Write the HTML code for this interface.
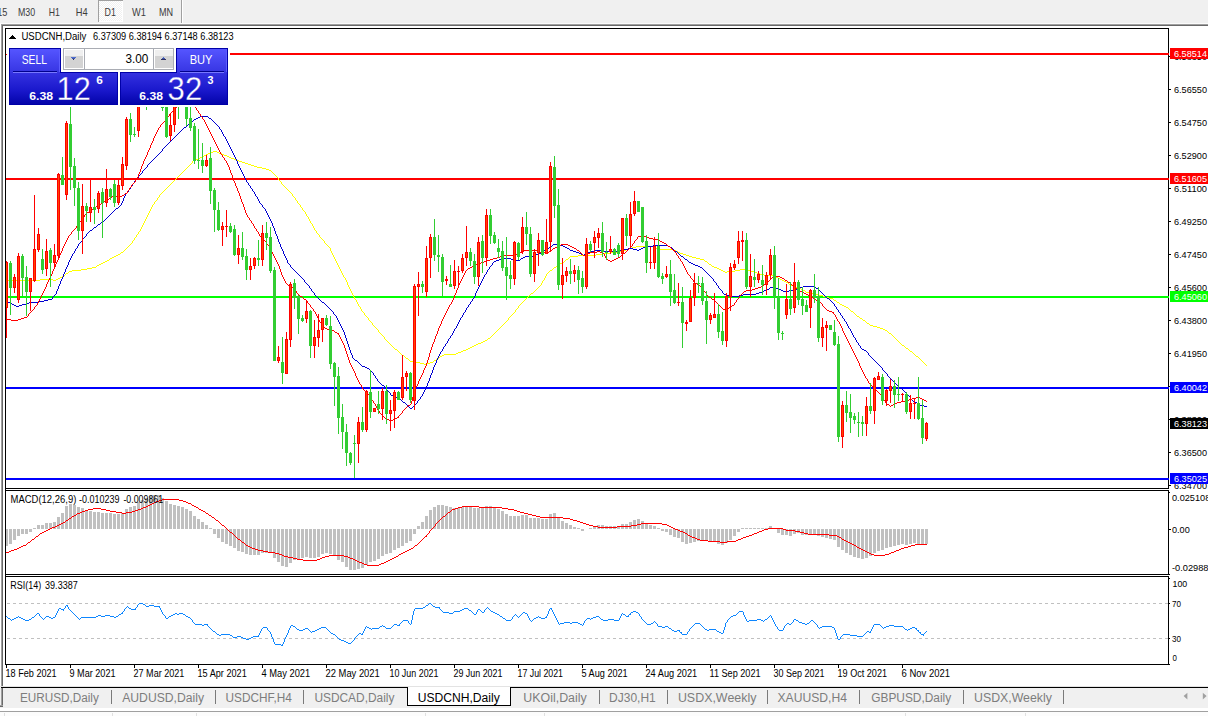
<!DOCTYPE html>
<html><head><meta charset="utf-8"><title>USDCNH,Daily</title>
<style>html,body{margin:0;padding:0;background:#fff}body{width:1208px;height:716px;overflow:hidden;position:relative}svg{position:absolute;left:0;top:0;display:block}text{font-family:"Liberation Sans",sans-serif;white-space:pre}.c{shape-rendering:crispEdges}</style></head><body>
<svg width="1208" height="716" viewBox="0 0 1208 716">
<defs><linearGradient id="gs" gradientUnits="userSpaceOnUse" x1="0" y1="49" x2="0" y2="73"><stop offset="0" stop-color="#5555ff"/><stop offset="1" stop-color="#3634e2"/></linearGradient><linearGradient id="gp" gradientUnits="userSpaceOnUse" x1="0" y1="73" x2="0" y2="104"><stop offset="0" stop-color="#3431e0"/><stop offset="0.55" stop-color="#1a18cc"/><stop offset="1" stop-color="#0404aa"/></linearGradient><linearGradient id="gb" x1="0" y1="0" x2="0" y2="1"><stop offset="0" stop-color="#f4f4f4"/><stop offset="0.45" stop-color="#e4e4e4"/><stop offset="0.5" stop-color="#d2d2d2"/><stop offset="1" stop-color="#c8c8c8"/></linearGradient><pattern id="chk" width="2" height="2" patternUnits="userSpaceOnUse"><rect width="2" height="2" fill="#f0f0f0"/><rect width="1" height="1" fill="#fff"/><rect x="1" y="1" width="1" height="1" fill="#fff"/></pattern><clipPath id="cm"><rect x="6" y="29" width="1162" height="459"/></clipPath></defs>
<g class="c">
<rect x="0" y="0" width="1208" height="716" fill="#fff"/>
<rect x="0" y="0" width="1208" height="23" fill="#f0f0f0"/>
<rect x="0" y="23" width="1208" height="1" fill="#fbfbfb"/>
<rect x="1" y="24" width="1207" height="1" fill="#a0a0a0"/>
<rect x="2" y="25" width="1206" height="1" fill="#696969"/>
<rect x="1" y="24" width="1" height="683" fill="#a0a0a0"/>
<rect x="2" y="25" width="1" height="682" fill="#696969"/>
<rect x="98" y="0" width="25" height="22" fill="url(#chk)"/>
<rect x="98" y="0" width="25" height="1" fill="#a0a0a0"/>
<rect x="98" y="0" width="1" height="22" fill="#a0a0a0"/>
<rect x="122" y="1" width="1" height="21" fill="#fff"/>
<rect x="99" y="21" width="24" height="1" fill="#fff"/>
<rect x="181" y="0" width="1" height="23" fill="#a0a0a0"/>
<rect x="182" y="0" width="1" height="23" fill="#fff"/>
<rect x="0" y="686" width="1208" height="1" fill="#e3e3e3"/>
<rect x="0" y="688" width="1208" height="20" fill="#f0f0f0"/>
<rect x="1" y="687" width="1207" height="1" fill="#000"/>
<rect x="0" y="708" width="1208" height="3" fill="#fff"/>
<rect x="0" y="711" width="1208" height="1" fill="#a0a0a0"/>
<rect x="0" y="712" width="1208" height="4" fill="#fcfcfc"/>
<rect x="4" y="713" width="1" height="3" fill="#e0e0e0"/>
<rect x="112" y="713" width="1" height="3" fill="#e0e0e0"/>
<rect x="196" y="713" width="1" height="3" fill="#e0e0e0"/>
<rect x="425" y="713" width="1" height="3" fill="#e0e0e0"/>
<rect x="544" y="713" width="1" height="3" fill="#e0e0e0"/>
<rect x="905" y="713" width="1" height="3" fill="#e0e0e0"/>
<rect x="1025" y="713" width="1" height="3" fill="#e0e0e0"/>
<rect x="1" y="688" width="1" height="18" fill="#a0a0a0"/>
<rect x="2" y="688" width="1" height="18" fill="#696969"/>
<rect x="0" y="705" width="3" height="1" fill="#a0a0a0"/>
<rect x="0" y="706" width="3" height="1" fill="#696969"/>
<rect x="407" y="687" width="104" height="19" fill="#fff"/>
<rect x="407" y="687" width="1" height="19" fill="#000"/>
<rect x="510" y="687" width="1" height="19" fill="#000"/>
<rect x="407" y="705" width="104" height="1" fill="#000"/>
<rect x="408" y="687" width="102" height="1" fill="#fff"/>
<rect x="111" y="690" width="1" height="14" fill="#7a7a7a"/>
<rect x="215" y="690" width="1" height="14" fill="#7a7a7a"/>
<rect x="303" y="690" width="1" height="14" fill="#7a7a7a"/>
<rect x="599" y="690" width="1" height="14" fill="#7a7a7a"/>
<rect x="667" y="690" width="1" height="14" fill="#7a7a7a"/>
<rect x="767" y="690" width="1" height="14" fill="#7a7a7a"/>
<rect x="859" y="690" width="1" height="14" fill="#7a7a7a"/>
<rect x="963" y="690" width="1" height="14" fill="#7a7a7a"/>
<rect x="1063" y="690" width="1" height="14" fill="#7a7a7a"/>
<rect x="5" y="28" width="1" height="637" fill="#000"/>
<rect x="5" y="28" width="1164" height="1" fill="#000"/>
<rect x="5" y="488" width="1164" height="1" fill="#000"/>
<rect x="1168" y="28" width="1" height="461" fill="#000"/>
<rect x="5" y="490" width="1164" height="1" fill="#000"/>
<rect x="5" y="574" width="1164" height="1" fill="#000"/>
<rect x="1168" y="490" width="1" height="85" fill="#000"/>
<rect x="5" y="576" width="1164" height="1" fill="#000"/>
<rect x="5" y="664" width="1164" height="1" fill="#000"/>
<rect x="1168" y="576" width="1" height="89" fill="#000"/>
<rect x="6" y="665" width="1" height="3" fill="#000"/>
<rect x="70" y="665" width="1" height="3" fill="#000"/>
<rect x="134" y="665" width="1" height="3" fill="#000"/>
<rect x="198" y="665" width="1" height="3" fill="#000"/>
<rect x="262" y="665" width="1" height="3" fill="#000"/>
<rect x="326" y="665" width="1" height="3" fill="#000"/>
<rect x="390" y="665" width="1" height="3" fill="#000"/>
<rect x="454" y="665" width="1" height="3" fill="#000"/>
<rect x="518" y="665" width="1" height="3" fill="#000"/>
<rect x="582" y="665" width="1" height="3" fill="#000"/>
<rect x="646" y="665" width="1" height="3" fill="#000"/>
<rect x="710" y="665" width="1" height="3" fill="#000"/>
<rect x="774" y="665" width="1" height="3" fill="#000"/>
<rect x="838" y="665" width="1" height="3" fill="#000"/>
<rect x="902" y="665" width="1" height="3" fill="#000"/>
<rect x="1169" y="56" width="2" height="1" fill="#000"/>
<rect x="1169" y="89" width="2" height="1" fill="#000"/>
<rect x="1169" y="122" width="2" height="1" fill="#000"/>
<rect x="1169" y="155" width="2" height="1" fill="#000"/>
<rect x="1169" y="188" width="2" height="1" fill="#000"/>
<rect x="1169" y="221" width="2" height="1" fill="#000"/>
<rect x="1169" y="254" width="2" height="1" fill="#000"/>
<rect x="1169" y="287" width="2" height="1" fill="#000"/>
<rect x="1169" y="320" width="2" height="1" fill="#000"/>
<rect x="1169" y="353" width="2" height="1" fill="#000"/>
<rect x="1169" y="386" width="2" height="1" fill="#000"/>
<rect x="1169" y="419" width="2" height="1" fill="#000"/>
<rect x="1169" y="452" width="2" height="1" fill="#000"/>
<rect x="1169" y="485" width="2" height="1" fill="#000"/>
<rect x="1169" y="492" width="1" height="1" fill="#000"/>
<rect x="1169" y="529" width="2" height="1" fill="#000"/>
<rect x="1169" y="574" width="1" height="1" fill="#000"/>
<rect x="1169" y="578" width="1" height="1" fill="#000"/>
<rect x="1169" y="603" width="1" height="1" fill="#000"/>
<rect x="1169" y="638" width="1" height="1" fill="#000"/>
<rect x="1169" y="664" width="1" height="1" fill="#000"/>
</g>
<g class="c">
<rect x="6" y="53" width="1163" height="2" fill="#ff0000"/>
<rect x="6" y="178" width="1163" height="2" fill="#ff0000"/>
<rect x="6" y="296" width="1163" height="2" fill="#00ff00"/>
<rect x="6" y="387" width="1163" height="2" fill="#0000ff"/>
<rect x="6" y="478" width="1163" height="2" fill="#0000ff"/>
</g>
<g class="c" clip-path="url(#cm)">
<path d="M6 280h1v1h-1zM7 280h1v1h-1zM8 280h1v1h-1zM9 280h1v1h-1zM10 280h1v1h-1zM11 280h1v1h-1zM12 280h1v1h-1zM13 280h1v1h-1zM14 280h1v1h-1zM15 280h1v1h-1zM16 280h1v1h-1zM17 280h1v1h-1zM18 280h1v1h-1zM19 280h1v1h-1zM20 280h1v1h-1zM21 280h1v1h-1zM22 280h1v1h-1zM23 280h1v1h-1zM24 280h1v1h-1zM25 280h1v1h-1zM26 280h1v1h-1zM27 280h1v1h-1zM28 280h1v1h-1zM29 280h1v1h-1zM30 280h1v1h-1zM31 280h1v1h-1zM32 280h1v1h-1zM33 280h1v1h-1zM34 280h1v1h-1zM35 280h1v1h-1zM36 280h1v1h-1zM37 280h1v1h-1zM38 280h1v1h-1zM39 280h1v1h-1zM40 279h1v1h-1zM41 279h1v1h-1zM42 279h1v1h-1zM43 279h1v1h-1zM44 279h1v1h-1zM45 279h1v1h-1zM46 279h1v1h-1zM47 279h1v1h-1zM48 279h1v1h-1zM49 279h1v1h-1zM50 279h1v1h-1zM51 279h1v1h-1zM52 279h1v1h-1zM53 280h1v1h-1zM54 280h1v1h-1zM55 280h1v1h-1zM56 279h1v1h-1zM57 279h1v1h-1zM58 278h1v1h-1zM59 278h1v1h-1zM60 277h1v1h-1zM61 277h1v1h-1zM62 276h1v1h-1zM63 275h1v1h-1zM64 275h1v1h-1zM65 274h1v1h-1zM66 273h1v1h-1zM67 273h1v1h-1zM68 272h1v1h-1zM69 271h1v1h-1zM70 271h1v1h-1zM71 271h1v1h-1zM72 270h1v1h-1zM73 270h1v1h-1zM74 270h1v1h-1zM75 270h1v1h-1zM76 270h1v1h-1zM77 270h1v1h-1zM78 270h1v1h-1zM79 270h1v1h-1zM80 270h1v1h-1zM81 269h1v1h-1zM82 269h1v1h-1zM83 269h1v1h-1zM84 269h1v1h-1zM85 269h1v1h-1zM86 269h1v1h-1zM87 268h1v1h-1zM88 268h1v1h-1zM89 268h1v1h-1zM90 268h1v1h-1zM91 268h1v1h-1zM92 267h1v1h-1zM93 267h1v1h-1zM94 267h1v1h-1zM95 267h1v1h-1zM96 266h1v1h-1zM97 265h1v1h-1zM98 265h1v1h-1zM99 264h1v1h-1zM100 264h1v1h-1zM101 263h1v1h-1zM102 263h1v1h-1zM103 262h1v1h-1zM104 262h1v1h-1zM105 261h1v1h-1zM106 261h1v1h-1zM107 260h1v1h-1zM108 260h1v1h-1zM109 259h1v1h-1zM110 258h1v1h-1zM111 258h1v1h-1zM112 257h1v1h-1zM113 257h1v1h-1zM114 256h1v1h-1zM115 256h1v1h-1zM116 255h1v1h-1zM117 255h1v1h-1zM118 254h1v1h-1zM119 254h1v1h-1zM120 253h1v1h-1zM121 252h1v1h-1zM122 252h1v1h-1zM123 251h1v1h-1zM124 250h1v1h-1zM125 249h1v1h-1zM126 248h1v1h-1zM127 247h1v1h-1zM128 246h1v1h-1zM129 245h1v1h-1zM130 244h1v1h-1zM131 243h1v1h-1zM132 241h1v2h-1zM133 240h1v1h-1zM134 238h1v2h-1zM135 237h1v1h-1zM136 235h1v2h-1zM137 234h1v1h-1zM138 232h1v2h-1zM139 231h1v1h-1zM140 229h1v2h-1zM141 227h1v2h-1zM142 225h1v2h-1zM143 223h1v2h-1zM144 221h1v2h-1zM145 219h1v2h-1zM146 217h1v2h-1zM147 215h1v2h-1zM148 213h1v2h-1zM149 211h1v2h-1zM150 209h1v2h-1zM151 207h1v2h-1zM152 205h1v2h-1zM153 204h1v1h-1zM154 202h1v2h-1zM155 201h1v1h-1zM156 200h1v1h-1zM157 198h1v2h-1zM158 197h1v1h-1zM159 195h1v2h-1zM160 194h1v1h-1zM161 193h1v1h-1zM162 192h1v1h-1zM163 191h1v1h-1zM164 190h1v1h-1zM165 189h1v1h-1zM166 188h1v1h-1zM167 187h1v1h-1zM168 186h1v1h-1zM169 185h1v1h-1zM170 184h1v1h-1zM171 183h1v1h-1zM172 182h1v1h-1zM173 181h1v1h-1zM174 180h1v1h-1zM175 179h1v1h-1zM176 178h1v1h-1zM177 177h1v1h-1zM178 176h1v1h-1zM179 175h1v1h-1zM180 174h1v1h-1zM181 173h1v1h-1zM182 172h1v1h-1zM183 171h1v1h-1zM184 170h1v1h-1zM185 169h1v1h-1zM186 168h1v1h-1zM187 167h1v1h-1zM188 166h1v1h-1zM189 165h1v1h-1zM190 164h1v1h-1zM191 163h1v1h-1zM192 161h1v2h-1zM193 160h1v1h-1zM194 160h1v1h-1zM195 160h1v1h-1zM196 159h1v1h-1zM197 159h1v1h-1zM198 158h1v1h-1zM199 158h1v1h-1zM200 157h1v1h-1zM201 157h1v1h-1zM202 156h1v1h-1zM203 156h1v1h-1zM204 155h1v1h-1zM205 155h1v1h-1zM206 154h1v1h-1zM207 154h1v1h-1zM208 153h1v1h-1zM209 153h1v1h-1zM210 152h1v1h-1zM211 152h1v1h-1zM212 152h1v1h-1zM213 151h1v1h-1zM214 151h1v1h-1zM215 151h1v1h-1zM216 151h1v1h-1zM217 152h1v1h-1zM218 152h1v1h-1zM219 153h1v1h-1zM220 153h1v1h-1zM221 153h1v1h-1zM222 154h1v1h-1zM223 154h1v1h-1zM224 155h1v1h-1zM225 155h1v1h-1zM226 155h1v1h-1zM227 156h1v1h-1zM228 156h1v1h-1zM229 157h1v1h-1zM230 157h1v1h-1zM231 158h1v1h-1zM232 158h1v1h-1zM233 158h1v1h-1zM234 159h1v1h-1zM235 159h1v1h-1zM236 160h1v1h-1zM237 160h1v1h-1zM238 160h1v1h-1zM239 161h1v1h-1zM240 161h1v1h-1zM241 161h1v1h-1zM242 162h1v1h-1zM243 162h1v1h-1zM244 162h1v1h-1zM245 163h1v1h-1zM246 163h1v1h-1zM247 163h1v1h-1zM248 164h1v1h-1zM249 164h1v1h-1zM250 164h1v1h-1zM251 165h1v1h-1zM252 165h1v1h-1zM253 165h1v1h-1zM254 166h1v1h-1zM255 166h1v1h-1zM256 166h1v1h-1zM257 167h1v1h-1zM258 167h1v1h-1zM259 167h1v1h-1zM260 167h1v1h-1zM261 167h1v1h-1zM262 168h1v1h-1zM263 168h1v1h-1zM264 168h1v1h-1zM265 168h1v1h-1zM266 169h1v1h-1zM267 169h1v1h-1zM268 169h1v1h-1zM269 170h1v1h-1zM270 170h1v1h-1zM271 171h1v1h-1zM272 172h1v1h-1zM273 173h1v1h-1zM274 174h1v1h-1zM275 175h1v1h-1zM276 176h1v1h-1zM277 177h1v1h-1zM278 178h1v2h-1zM279 180h1v1h-1zM280 181h1v1h-1zM281 182h1v2h-1zM282 184h1v1h-1zM283 185h1v1h-1zM284 186h1v1h-1zM285 187h1v1h-1zM286 188h1v1h-1zM287 189h1v1h-1zM288 190h1v1h-1zM289 191h1v1h-1zM290 192h1v1h-1zM291 193h1v1h-1zM292 194h1v2h-1zM293 196h1v1h-1zM294 197h1v1h-1zM295 198h1v2h-1zM296 200h1v1h-1zM297 201h1v2h-1zM298 203h1v1h-1zM299 204h1v1h-1zM300 205h1v2h-1zM301 207h1v1h-1zM302 208h1v2h-1zM303 210h1v1h-1zM304 211h1v1h-1zM305 212h1v2h-1zM306 214h1v2h-1zM307 216h1v1h-1zM308 217h1v2h-1zM309 219h1v2h-1zM310 221h1v2h-1zM311 223h1v1h-1zM312 224h1v2h-1zM313 226h1v2h-1zM314 228h1v2h-1zM315 230h1v1h-1zM316 231h1v2h-1zM317 233h1v1h-1zM318 234h1v1h-1zM319 235h1v2h-1zM320 237h1v1h-1zM321 238h1v1h-1zM322 239h1v1h-1zM323 240h1v1h-1zM324 241h1v2h-1zM325 243h1v1h-1zM326 244h1v1h-1zM327 245h1v1h-1zM328 246h1v1h-1zM329 247h1v1h-1zM330 248h1v3h-1zM331 251h1v2h-1zM332 253h1v2h-1zM333 255h1v2h-1zM334 257h1v2h-1zM335 259h1v2h-1zM336 261h1v2h-1zM337 263h1v2h-1zM338 265h1v2h-1zM339 267h1v2h-1zM340 269h1v2h-1zM341 271h1v2h-1zM342 273h1v2h-1zM343 275h1v2h-1zM344 277h1v1h-1zM345 278h1v2h-1zM346 280h1v2h-1zM347 282h1v3h-1zM348 285h1v2h-1zM349 287h1v2h-1zM350 289h1v2h-1zM351 291h1v2h-1zM352 293h1v2h-1zM353 295h1v2h-1zM354 297h1v2h-1zM355 299h1v1h-1zM356 300h1v2h-1zM357 302h1v2h-1zM358 304h1v2h-1zM359 306h1v1h-1zM360 307h1v2h-1zM361 309h1v2h-1zM362 311h1v1h-1zM363 312h1v1h-1zM364 313h1v2h-1zM365 315h1v1h-1zM366 316h1v1h-1zM367 317h1v1h-1zM368 318h1v2h-1zM369 320h1v1h-1zM370 321h1v1h-1zM371 322h1v1h-1zM372 323h1v2h-1zM373 325h1v1h-1zM374 326h1v1h-1zM375 327h1v1h-1zM376 328h1v1h-1zM377 329h1v1h-1zM378 330h1v2h-1zM379 332h1v1h-1zM380 333h1v1h-1zM381 334h1v1h-1zM382 335h1v1h-1zM383 336h1v1h-1zM384 337h1v2h-1zM385 339h1v1h-1zM386 340h1v1h-1zM387 341h1v1h-1zM388 342h1v1h-1zM389 343h1v1h-1zM390 344h1v1h-1zM391 345h1v1h-1zM392 346h1v1h-1zM393 347h1v1h-1zM394 348h1v1h-1zM395 349h1v1h-1zM396 349h1v1h-1zM397 350h1v1h-1zM398 351h1v1h-1zM399 352h1v1h-1zM400 353h1v1h-1zM401 354h1v1h-1zM402 355h1v1h-1zM403 355h1v1h-1zM404 356h1v1h-1zM405 357h1v1h-1zM406 358h1v1h-1zM407 358h1v1h-1zM408 359h1v1h-1zM409 360h1v1h-1zM410 361h1v1h-1zM411 361h1v1h-1zM412 361h1v1h-1zM413 361h1v1h-1zM414 361h1v1h-1zM415 362h1v1h-1zM416 362h1v1h-1zM417 362h1v1h-1zM418 362h1v1h-1zM419 362h1v1h-1zM420 363h1v1h-1zM421 363h1v1h-1zM422 363h1v1h-1zM423 363h1v1h-1zM424 364h1v1h-1zM425 364h1v1h-1zM426 364h1v1h-1zM427 363h1v1h-1zM428 363h1v1h-1zM429 363h1v1h-1zM430 362h1v1h-1zM431 362h1v1h-1zM432 362h1v1h-1zM433 361h1v1h-1zM434 360h1v1h-1zM435 360h1v1h-1zM436 359h1v1h-1zM437 358h1v1h-1zM438 358h1v1h-1zM439 357h1v1h-1zM440 356h1v1h-1zM441 356h1v1h-1zM442 355h1v1h-1zM443 355h1v1h-1zM444 354h1v1h-1zM445 354h1v1h-1zM446 354h1v1h-1zM447 354h1v1h-1zM448 354h1v1h-1zM449 354h1v1h-1zM450 354h1v1h-1zM451 354h1v1h-1zM452 354h1v1h-1zM453 354h1v1h-1zM454 354h1v1h-1zM455 354h1v1h-1zM456 353h1v1h-1zM457 353h1v1h-1zM458 352h1v1h-1zM459 352h1v1h-1zM460 352h1v1h-1zM461 351h1v1h-1zM462 351h1v1h-1zM463 350h1v1h-1zM464 350h1v1h-1zM465 350h1v1h-1zM466 349h1v1h-1zM467 349h1v1h-1zM468 348h1v1h-1zM469 348h1v1h-1zM470 347h1v1h-1zM471 347h1v1h-1zM472 346h1v1h-1zM473 346h1v1h-1zM474 345h1v1h-1zM475 345h1v1h-1zM476 344h1v1h-1zM477 344h1v1h-1zM478 343h1v1h-1zM479 343h1v1h-1zM480 343h1v1h-1zM481 342h1v1h-1zM482 342h1v1h-1zM483 341h1v1h-1zM484 341h1v1h-1zM485 340h1v1h-1zM486 340h1v1h-1zM487 339h1v1h-1zM488 338h1v1h-1zM489 338h1v1h-1zM490 337h1v1h-1zM491 336h1v1h-1zM492 335h1v1h-1zM493 334h1v1h-1zM494 333h1v1h-1zM495 332h1v1h-1zM496 331h1v1h-1zM497 330h1v1h-1zM498 329h1v1h-1zM499 328h1v1h-1zM500 327h1v1h-1zM501 326h1v1h-1zM502 325h1v1h-1zM503 324h1v1h-1zM504 323h1v1h-1zM505 322h1v1h-1zM506 321h1v1h-1zM507 320h1v1h-1zM508 318h1v2h-1zM509 317h1v1h-1zM510 316h1v1h-1zM511 315h1v1h-1zM512 314h1v1h-1zM513 313h1v1h-1zM514 312h1v1h-1zM515 310h1v2h-1zM516 309h1v1h-1zM517 308h1v1h-1zM518 306h1v2h-1zM519 305h1v1h-1zM520 304h1v1h-1zM521 303h1v1h-1zM522 302h1v1h-1zM523 301h1v1h-1zM524 300h1v1h-1zM525 299h1v1h-1zM526 298h1v1h-1zM527 297h1v1h-1zM528 296h1v1h-1zM529 295h1v1h-1zM530 294h1v1h-1zM531 293h1v1h-1zM532 293h1v1h-1zM533 292h1v1h-1zM534 291h1v1h-1zM535 290h1v1h-1zM536 289h1v1h-1zM537 288h1v1h-1zM538 287h1v1h-1zM539 286h1v1h-1zM540 285h1v1h-1zM541 283h1v2h-1zM542 281h1v2h-1zM543 280h1v1h-1zM544 278h1v2h-1zM545 276h1v2h-1zM546 274h1v2h-1zM547 273h1v1h-1zM548 272h1v1h-1zM549 271h1v1h-1zM550 270h1v1h-1zM551 270h1v1h-1zM552 269h1v1h-1zM553 268h1v1h-1zM554 267h1v1h-1zM555 267h1v1h-1zM556 266h1v1h-1zM557 265h1v1h-1zM558 265h1v1h-1zM559 264h1v1h-1zM560 263h1v1h-1zM561 263h1v1h-1zM562 262h1v1h-1zM563 262h1v1h-1zM564 261h1v1h-1zM565 260h1v1h-1zM566 259h1v1h-1zM567 259h1v1h-1zM568 258h1v1h-1zM569 257h1v1h-1zM570 256h1v1h-1zM571 256h1v1h-1zM572 256h1v1h-1zM573 256h1v1h-1zM574 256h1v1h-1zM575 256h1v1h-1zM576 256h1v1h-1zM577 256h1v1h-1zM578 255h1v1h-1zM579 255h1v1h-1zM580 255h1v1h-1zM581 255h1v1h-1zM582 255h1v1h-1zM583 255h1v1h-1zM584 255h1v1h-1zM585 255h1v1h-1zM586 255h1v1h-1zM587 255h1v1h-1zM588 255h1v1h-1zM589 255h1v1h-1zM590 255h1v1h-1zM591 255h1v1h-1zM592 255h1v1h-1zM593 255h1v1h-1zM594 255h1v1h-1zM595 255h1v1h-1zM596 254h1v1h-1zM597 254h1v1h-1zM598 254h1v1h-1zM599 254h1v1h-1zM600 254h1v1h-1zM601 254h1v1h-1zM602 253h1v1h-1zM603 253h1v1h-1zM604 253h1v1h-1zM605 253h1v1h-1zM606 253h1v1h-1zM607 253h1v1h-1zM608 253h1v1h-1zM609 253h1v1h-1zM610 252h1v1h-1zM611 252h1v1h-1zM612 252h1v1h-1zM613 252h1v1h-1zM614 252h1v1h-1zM615 252h1v1h-1zM616 252h1v1h-1zM617 251h1v1h-1zM618 251h1v1h-1zM619 251h1v1h-1zM620 251h1v1h-1zM621 251h1v1h-1zM622 251h1v1h-1zM623 250h1v1h-1zM624 250h1v1h-1zM625 250h1v1h-1zM626 249h1v1h-1zM627 249h1v1h-1zM628 249h1v1h-1zM629 248h1v1h-1zM630 248h1v1h-1zM631 248h1v1h-1zM632 247h1v1h-1zM633 247h1v1h-1zM634 247h1v1h-1zM635 247h1v1h-1zM636 246h1v1h-1zM637 246h1v1h-1zM638 246h1v1h-1zM639 246h1v1h-1zM640 246h1v1h-1zM641 246h1v1h-1zM642 246h1v1h-1zM643 246h1v1h-1zM644 246h1v1h-1zM645 246h1v1h-1zM646 246h1v1h-1zM647 246h1v1h-1zM648 246h1v1h-1zM649 246h1v1h-1zM650 246h1v1h-1zM651 246h1v1h-1zM652 246h1v1h-1zM653 247h1v1h-1zM654 247h1v1h-1zM655 247h1v1h-1zM656 248h1v1h-1zM657 248h1v1h-1zM658 248h1v1h-1zM659 248h1v1h-1zM660 249h1v1h-1zM661 249h1v1h-1zM662 249h1v1h-1zM663 249h1v1h-1zM664 249h1v1h-1zM665 249h1v1h-1zM666 249h1v1h-1zM667 249h1v1h-1zM668 249h1v1h-1zM669 249h1v1h-1zM670 249h1v1h-1zM671 249h1v1h-1zM672 249h1v1h-1zM673 249h1v1h-1zM674 250h1v1h-1zM675 250h1v1h-1zM676 251h1v1h-1zM677 251h1v1h-1zM678 252h1v1h-1zM679 252h1v1h-1zM680 253h1v1h-1zM681 253h1v1h-1zM682 253h1v1h-1zM683 254h1v1h-1zM684 254h1v1h-1zM685 254h1v1h-1zM686 255h1v1h-1zM687 255h1v1h-1zM688 255h1v1h-1zM689 256h1v1h-1zM690 256h1v1h-1zM691 256h1v1h-1zM692 257h1v1h-1zM693 257h1v1h-1zM694 257h1v1h-1zM695 257h1v1h-1zM696 258h1v1h-1zM697 258h1v1h-1zM698 258h1v1h-1zM699 258h1v1h-1zM700 259h1v1h-1zM701 259h1v1h-1zM702 259h1v1h-1zM703 259h1v1h-1zM704 260h1v1h-1zM705 261h1v1h-1zM706 261h1v1h-1zM707 262h1v1h-1zM708 263h1v1h-1zM709 264h1v1h-1zM710 264h1v1h-1zM711 265h1v1h-1zM712 266h1v1h-1zM713 266h1v1h-1zM714 267h1v1h-1zM715 267h1v1h-1zM716 267h1v1h-1zM717 268h1v1h-1zM718 268h1v1h-1zM719 269h1v1h-1zM720 269h1v1h-1zM721 270h1v1h-1zM722 270h1v1h-1zM723 271h1v1h-1zM724 271h1v1h-1zM725 272h1v1h-1zM726 272h1v1h-1zM727 271h1v1h-1zM728 271h1v1h-1zM729 271h1v1h-1zM730 271h1v1h-1zM731 271h1v1h-1zM732 271h1v1h-1zM733 271h1v1h-1zM734 271h1v1h-1zM735 270h1v1h-1zM736 270h1v1h-1zM737 270h1v1h-1zM738 270h1v1h-1zM739 270h1v1h-1zM740 269h1v1h-1zM741 269h1v1h-1zM742 269h1v1h-1zM743 269h1v1h-1zM744 269h1v1h-1zM745 269h1v1h-1zM746 270h1v1h-1zM747 270h1v1h-1zM748 270h1v1h-1zM749 270h1v1h-1zM750 271h1v1h-1zM751 271h1v1h-1zM752 271h1v1h-1zM753 271h1v1h-1zM754 272h1v1h-1zM755 272h1v1h-1zM756 272h1v1h-1zM757 273h1v1h-1zM758 273h1v1h-1zM759 273h1v1h-1zM760 274h1v1h-1zM761 274h1v1h-1zM762 274h1v1h-1zM763 274h1v1h-1zM764 275h1v1h-1zM765 275h1v1h-1zM766 275h1v1h-1zM767 275h1v1h-1zM768 275h1v1h-1zM769 275h1v1h-1zM770 275h1v1h-1zM771 275h1v1h-1zM772 275h1v1h-1zM773 276h1v1h-1zM774 276h1v1h-1zM775 276h1v1h-1zM776 277h1v1h-1zM777 277h1v1h-1zM778 278h1v1h-1zM779 278h1v1h-1zM780 279h1v1h-1zM781 279h1v1h-1zM782 280h1v1h-1zM783 280h1v1h-1zM784 281h1v1h-1zM785 281h1v1h-1zM786 282h1v1h-1zM787 282h1v1h-1zM788 283h1v1h-1zM789 284h1v1h-1zM790 284h1v1h-1zM791 285h1v1h-1zM792 285h1v1h-1zM793 286h1v1h-1zM794 286h1v1h-1zM795 286h1v1h-1zM796 287h1v1h-1zM797 287h1v1h-1zM798 288h1v1h-1zM799 288h1v1h-1zM800 288h1v1h-1zM801 289h1v1h-1zM802 290h1v1h-1zM803 290h1v1h-1zM804 290h1v1h-1zM805 291h1v1h-1zM806 292h1v1h-1zM807 292h1v1h-1zM808 292h1v1h-1zM809 293h1v1h-1zM810 293h1v1h-1zM811 293h1v1h-1zM812 293h1v1h-1zM813 293h1v1h-1zM814 293h1v1h-1zM815 294h1v1h-1zM816 294h1v1h-1zM817 294h1v1h-1zM818 294h1v1h-1zM819 295h1v1h-1zM820 295h1v1h-1zM821 295h1v1h-1zM822 295h1v1h-1zM823 296h1v1h-1zM824 296h1v1h-1zM825 296h1v1h-1zM826 297h1v1h-1zM827 297h1v1h-1zM828 297h1v1h-1zM829 298h1v1h-1zM830 298h1v1h-1zM831 298h1v1h-1zM832 298h1v1h-1zM833 299h1v1h-1zM834 300h1v1h-1zM835 300h1v1h-1zM836 301h1v1h-1zM837 302h1v1h-1zM838 302h1v1h-1zM839 303h1v1h-1zM840 304h1v1h-1zM841 304h1v1h-1zM842 305h1v1h-1zM843 305h1v1h-1zM844 306h1v1h-1zM845 306h1v1h-1zM846 307h1v1h-1zM847 307h1v1h-1zM848 308h1v1h-1zM849 309h1v1h-1zM850 310h1v1h-1zM851 311h1v1h-1zM852 311h1v1h-1zM853 312h1v1h-1zM854 313h1v1h-1zM855 314h1v1h-1zM856 315h1v1h-1zM857 316h1v1h-1zM858 316h1v1h-1zM859 317h1v1h-1zM860 318h1v1h-1zM861 318h1v1h-1zM862 319h1v1h-1zM863 320h1v1h-1zM864 320h1v1h-1zM865 321h1v1h-1zM866 322h1v1h-1zM867 323h1v1h-1zM868 323h1v1h-1zM869 324h1v1h-1zM870 325h1v1h-1zM871 325h1v1h-1zM872 325h1v1h-1zM873 326h1v1h-1zM874 326h1v1h-1zM875 326h1v1h-1zM876 326h1v1h-1zM877 327h1v1h-1zM878 327h1v1h-1zM879 327h1v1h-1zM880 328h1v1h-1zM881 328h1v1h-1zM882 328h1v1h-1zM883 329h1v1h-1zM884 329h1v1h-1zM885 330h1v1h-1zM886 330h1v1h-1zM887 331h1v1h-1zM888 332h1v1h-1zM889 333h1v1h-1zM890 333h1v1h-1zM891 334h1v1h-1zM892 335h1v1h-1zM893 336h1v1h-1zM894 337h1v1h-1zM895 338h1v1h-1zM896 339h1v1h-1zM897 340h1v1h-1zM898 341h1v1h-1zM899 342h1v1h-1zM900 343h1v1h-1zM901 344h1v1h-1zM902 345h1v1h-1zM903 345h1v1h-1zM904 346h1v1h-1zM905 347h1v1h-1zM906 348h1v1h-1zM907 348h1v1h-1zM908 349h1v1h-1zM909 350h1v1h-1zM910 351h1v1h-1zM911 351h1v1h-1zM912 352h1v1h-1zM913 353h1v1h-1zM914 354h1v1h-1zM915 355h1v1h-1zM916 356h1v1h-1zM917 356h1v1h-1zM918 357h1v1h-1zM919 358h1v1h-1zM920 359h1v1h-1zM921 360h1v1h-1zM922 361h1v1h-1zM923 362h1v1h-1zM924 363h1v1h-1zM925 364h1v1h-1zM926 365h1v1h-1z" fill="#ffff00"/>
<path d="M6 301h1v1h-1zM7 301h1v1h-1zM8 302h1v1h-1zM9 302h1v1h-1zM10 303h1v1h-1zM11 303h1v1h-1zM12 304h1v1h-1zM13 304h1v1h-1zM14 305h1v1h-1zM15 305h1v1h-1zM16 306h1v1h-1zM17 306h1v1h-1zM18 306h1v1h-1zM19 305h1v1h-1zM20 305h1v1h-1zM21 305h1v1h-1zM22 304h1v1h-1zM23 304h1v1h-1zM24 304h1v1h-1zM25 304h1v1h-1zM26 303h1v1h-1zM27 303h1v1h-1zM28 303h1v1h-1zM29 302h1v1h-1zM30 302h1v1h-1zM31 302h1v1h-1zM32 302h1v1h-1zM33 302h1v1h-1zM34 302h1v1h-1zM35 302h1v1h-1zM36 302h1v1h-1zM37 302h1v1h-1zM38 301h1v1h-1zM39 301h1v1h-1zM40 301h1v1h-1zM41 301h1v1h-1zM42 301h1v1h-1zM43 301h1v1h-1zM44 300h1v1h-1zM45 300h1v1h-1zM46 300h1v1h-1zM47 300h1v1h-1zM48 299h1v1h-1zM49 299h1v1h-1zM50 299h1v1h-1zM51 299h1v1h-1zM52 297h1v2h-1zM53 296h1v1h-1zM54 295h1v1h-1zM55 294h1v1h-1zM56 291h1v3h-1zM57 289h1v2h-1zM58 286h1v3h-1zM59 284h1v2h-1zM60 281h1v3h-1zM61 279h1v2h-1zM62 277h1v2h-1zM63 274h1v3h-1zM64 272h1v2h-1zM65 269h1v3h-1zM66 267h1v2h-1zM67 265h1v2h-1zM68 262h1v3h-1zM69 260h1v2h-1zM70 258h1v2h-1zM71 256h1v2h-1zM72 254h1v2h-1zM73 253h1v1h-1zM74 251h1v2h-1zM75 249h1v2h-1zM76 248h1v1h-1zM77 246h1v2h-1zM78 244h1v2h-1zM79 243h1v1h-1zM80 242h1v1h-1zM81 241h1v1h-1zM82 239h1v2h-1zM83 238h1v1h-1zM84 237h1v1h-1zM85 236h1v1h-1zM86 234h1v2h-1zM87 233h1v1h-1zM88 232h1v1h-1zM89 231h1v1h-1zM90 230h1v1h-1zM91 230h1v1h-1zM92 229h1v1h-1zM93 228h1v1h-1zM94 227h1v1h-1zM95 227h1v1h-1zM96 226h1v1h-1zM97 225h1v1h-1zM98 224h1v1h-1zM99 224h1v1h-1zM100 223h1v1h-1zM101 222h1v1h-1zM102 221h1v1h-1zM103 221h1v1h-1zM104 220h1v1h-1zM105 219h1v1h-1zM106 218h1v1h-1zM107 217h1v1h-1zM108 216h1v1h-1zM109 215h1v1h-1zM110 214h1v1h-1zM111 213h1v1h-1zM112 212h1v1h-1zM113 211h1v1h-1zM114 210h1v1h-1zM115 209h1v1h-1zM116 208h1v1h-1zM117 208h1v1h-1zM118 207h1v1h-1zM119 206h1v1h-1zM120 205h1v1h-1zM121 203h1v2h-1zM122 201h1v2h-1zM123 198h1v3h-1zM124 196h1v2h-1zM125 194h1v2h-1zM126 193h1v1h-1zM127 192h1v1h-1zM128 190h1v2h-1zM129 189h1v1h-1zM130 187h1v2h-1zM131 186h1v1h-1zM132 184h1v2h-1zM133 183h1v1h-1zM134 181h1v2h-1zM135 180h1v1h-1zM136 179h1v1h-1zM137 178h1v1h-1zM138 176h1v2h-1zM139 175h1v1h-1zM140 174h1v1h-1zM141 173h1v1h-1zM142 171h1v2h-1zM143 170h1v1h-1zM144 169h1v1h-1zM145 168h1v1h-1zM146 167h1v1h-1zM147 165h1v2h-1zM148 164h1v1h-1zM149 163h1v1h-1zM150 162h1v1h-1zM151 161h1v1h-1zM152 160h1v1h-1zM153 159h1v1h-1zM154 158h1v1h-1zM155 157h1v1h-1zM156 156h1v1h-1zM157 155h1v1h-1zM158 154h1v1h-1zM159 153h1v1h-1zM160 152h1v1h-1zM161 151h1v1h-1zM162 149h1v2h-1zM163 148h1v1h-1zM164 147h1v1h-1zM165 146h1v1h-1zM166 145h1v1h-1zM167 144h1v1h-1zM168 143h1v1h-1zM169 142h1v1h-1zM170 141h1v1h-1zM171 140h1v1h-1zM172 139h1v1h-1zM173 138h1v1h-1zM174 137h1v1h-1zM175 136h1v1h-1zM176 135h1v1h-1zM177 134h1v1h-1zM178 133h1v1h-1zM179 132h1v1h-1zM180 131h1v1h-1zM181 130h1v1h-1zM182 129h1v1h-1zM183 128h1v1h-1zM184 127h1v1h-1zM185 127h1v1h-1zM186 126h1v1h-1zM187 125h1v1h-1zM188 124h1v1h-1zM189 123h1v1h-1zM190 122h1v1h-1zM191 121h1v1h-1zM192 121h1v1h-1zM193 120h1v1h-1zM194 119h1v1h-1zM195 119h1v1h-1zM196 118h1v1h-1zM197 118h1v1h-1zM198 117h1v1h-1zM199 117h1v1h-1zM200 116h1v1h-1zM201 116h1v1h-1zM202 116h1v1h-1zM203 116h1v1h-1zM204 116h1v1h-1zM205 116h1v1h-1zM206 116h1v1h-1zM207 116h1v1h-1zM208 117h1v1h-1zM209 118h1v1h-1zM210 118h1v1h-1zM211 119h1v1h-1zM212 120h1v1h-1zM213 121h1v1h-1zM214 122h1v1h-1zM215 123h1v1h-1zM216 124h1v1h-1zM217 125h1v1h-1zM218 126h1v1h-1zM219 127h1v2h-1zM220 129h1v1h-1zM221 130h1v2h-1zM222 132h1v2h-1zM223 134h1v2h-1zM224 136h1v1h-1zM225 137h1v2h-1zM226 139h1v2h-1zM227 141h1v2h-1zM228 143h1v2h-1zM229 145h1v2h-1zM230 147h1v2h-1zM231 149h1v2h-1zM232 151h1v2h-1zM233 153h1v2h-1zM234 155h1v2h-1zM235 157h1v2h-1zM236 159h1v2h-1zM237 161h1v3h-1zM238 164h1v2h-1zM239 166h1v2h-1zM240 168h1v2h-1zM241 170h1v2h-1zM242 172h1v2h-1zM243 174h1v2h-1zM244 176h1v2h-1zM245 178h1v2h-1zM246 180h1v2h-1zM247 182h1v1h-1zM248 183h1v2h-1zM249 185h1v1h-1zM250 186h1v2h-1zM251 188h1v1h-1zM252 189h1v2h-1zM253 191h1v1h-1zM254 192h1v2h-1zM255 194h1v2h-1zM256 196h1v1h-1zM257 197h1v2h-1zM258 199h1v2h-1zM259 201h1v2h-1zM260 203h1v1h-1zM261 204h1v1h-1zM262 205h1v2h-1zM263 207h1v1h-1zM264 208h1v1h-1zM265 209h1v2h-1zM266 211h1v2h-1zM267 213h1v2h-1zM268 215h1v2h-1zM269 217h1v2h-1zM270 219h1v2h-1zM271 221h1v2h-1zM272 223h1v3h-1zM273 226h1v2h-1zM274 228h1v3h-1zM275 231h1v3h-1zM276 234h1v2h-1zM277 236h1v3h-1zM278 239h1v3h-1zM279 242h1v2h-1zM280 244h1v3h-1zM281 247h1v2h-1zM282 249h1v2h-1zM283 251h1v3h-1zM284 254h1v2h-1zM285 256h1v2h-1zM286 258h1v2h-1zM287 260h1v3h-1zM288 263h1v1h-1zM289 264h1v1h-1zM290 265h1v2h-1zM291 267h1v1h-1zM292 268h1v1h-1zM293 269h1v1h-1zM294 270h1v1h-1zM295 271h1v1h-1zM296 272h1v1h-1zM297 273h1v1h-1zM298 274h1v1h-1zM299 275h1v1h-1zM300 276h1v1h-1zM301 277h1v1h-1zM302 278h1v1h-1zM303 279h1v1h-1zM304 280h1v2h-1zM305 282h1v1h-1zM306 283h1v1h-1zM307 284h1v1h-1zM308 285h1v1h-1zM309 286h1v2h-1zM310 288h1v1h-1zM311 289h1v2h-1zM312 291h1v1h-1zM313 292h1v1h-1zM314 293h1v2h-1zM315 295h1v1h-1zM316 296h1v1h-1zM317 297h1v1h-1zM318 298h1v1h-1zM319 299h1v1h-1zM320 300h1v1h-1zM321 301h1v1h-1zM322 302h1v1h-1zM323 302h1v1h-1zM324 303h1v1h-1zM325 304h1v1h-1zM326 305h1v1h-1zM327 306h1v1h-1zM328 307h1v1h-1zM329 308h1v1h-1zM330 309h1v1h-1zM331 310h1v1h-1zM332 311h1v1h-1zM333 312h1v2h-1zM334 314h1v1h-1zM335 315h1v1h-1zM336 316h1v2h-1zM337 318h1v2h-1zM338 320h1v2h-1zM339 322h1v2h-1zM340 324h1v2h-1zM341 326h1v2h-1zM342 328h1v2h-1zM343 330h1v2h-1zM344 332h1v3h-1zM345 335h1v3h-1zM346 338h1v3h-1zM347 341h1v3h-1zM348 344h1v3h-1zM349 347h1v3h-1zM350 350h1v3h-1zM351 353h1v2h-1zM352 355h1v3h-1zM353 358h1v1h-1zM354 359h1v1h-1zM355 360h1v1h-1zM356 360h1v1h-1zM357 361h1v1h-1zM358 362h1v1h-1zM359 363h1v1h-1zM360 364h1v1h-1zM361 365h1v1h-1zM362 366h1v1h-1zM363 366h1v1h-1zM364 366h1v1h-1zM365 367h1v1h-1zM366 367h1v1h-1zM367 368h1v1h-1zM368 368h1v1h-1zM369 369h1v1h-1zM370 370h1v1h-1zM371 371h1v1h-1zM372 372h1v1h-1zM373 373h1v2h-1zM374 375h1v1h-1zM375 376h1v2h-1zM376 378h1v1h-1zM377 379h1v2h-1zM378 381h1v1h-1zM379 382h1v1h-1zM380 383h1v1h-1zM381 384h1v1h-1zM382 385h1v1h-1zM383 385h1v1h-1zM384 386h1v1h-1zM385 387h1v2h-1zM386 389h1v1h-1zM387 390h1v1h-1zM388 391h1v1h-1zM389 392h1v1h-1zM390 393h1v2h-1zM391 395h1v1h-1zM392 395h1v1h-1zM393 396h1v1h-1zM394 396h1v1h-1zM395 396h1v1h-1zM396 397h1v1h-1zM397 397h1v1h-1zM398 398h1v1h-1zM399 398h1v1h-1zM400 399h1v1h-1zM401 400h1v1h-1zM402 401h1v1h-1zM403 402h1v1h-1zM404 402h1v1h-1zM405 403h1v1h-1zM406 404h1v1h-1zM407 405h1v1h-1zM408 406h1v1h-1zM409 407h1v1h-1zM410 408h1v1h-1zM411 408h1v1h-1zM412 407h1v1h-1zM413 406h1v1h-1zM414 405h1v1h-1zM415 404h1v1h-1zM416 403h1v1h-1zM417 401h1v2h-1zM418 400h1v1h-1zM419 399h1v1h-1zM420 397h1v2h-1zM421 396h1v1h-1zM422 394h1v2h-1zM423 392h1v2h-1zM424 390h1v2h-1zM425 388h1v2h-1zM426 386h1v2h-1zM427 383h1v3h-1zM428 381h1v2h-1zM429 378h1v3h-1zM430 375h1v3h-1zM431 373h1v2h-1zM432 370h1v3h-1zM433 367h1v3h-1zM434 365h1v2h-1zM435 363h1v2h-1zM436 360h1v3h-1zM437 358h1v2h-1zM438 356h1v2h-1zM439 354h1v2h-1zM440 352h1v2h-1zM441 351h1v1h-1zM442 349h1v2h-1zM443 347h1v2h-1zM444 346h1v1h-1zM445 344h1v2h-1zM446 343h1v1h-1zM447 341h1v2h-1zM448 339h1v2h-1zM449 338h1v1h-1zM450 336h1v2h-1zM451 335h1v1h-1zM452 333h1v2h-1zM453 331h1v2h-1zM454 329h1v2h-1zM455 328h1v1h-1zM456 326h1v2h-1zM457 324h1v2h-1zM458 322h1v2h-1zM459 320h1v2h-1zM460 318h1v2h-1zM461 317h1v1h-1zM462 315h1v2h-1zM463 313h1v2h-1zM464 312h1v1h-1zM465 310h1v2h-1zM466 308h1v2h-1zM467 307h1v1h-1zM468 305h1v2h-1zM469 304h1v1h-1zM470 302h1v2h-1zM471 301h1v1h-1zM472 299h1v2h-1zM473 298h1v1h-1zM474 296h1v2h-1zM475 293h1v3h-1zM476 291h1v2h-1zM477 289h1v2h-1zM478 287h1v2h-1zM479 285h1v2h-1zM480 283h1v2h-1zM481 281h1v2h-1zM482 279h1v2h-1zM483 277h1v2h-1zM484 275h1v2h-1zM485 274h1v1h-1zM486 272h1v2h-1zM487 270h1v2h-1zM488 269h1v1h-1zM489 267h1v2h-1zM490 266h1v1h-1zM491 265h1v1h-1zM492 263h1v2h-1zM493 262h1v1h-1zM494 261h1v1h-1zM495 261h1v1h-1zM496 260h1v1h-1zM497 260h1v1h-1zM498 260h1v1h-1zM499 259h1v1h-1zM500 259h1v1h-1zM501 259h1v1h-1zM502 258h1v1h-1zM503 258h1v1h-1zM504 258h1v1h-1zM505 258h1v1h-1zM506 258h1v1h-1zM507 258h1v1h-1zM508 258h1v1h-1zM509 258h1v1h-1zM510 258h1v1h-1zM511 259h1v1h-1zM512 259h1v1h-1zM513 259h1v1h-1zM514 259h1v1h-1zM515 259h1v1h-1zM516 260h1v1h-1zM517 260h1v1h-1zM518 260h1v1h-1zM519 260h1v1h-1zM520 259h1v1h-1zM521 258h1v1h-1zM522 258h1v1h-1zM523 257h1v1h-1zM524 257h1v1h-1zM525 256h1v1h-1zM526 256h1v1h-1zM527 256h1v1h-1zM528 256h1v1h-1zM529 256h1v1h-1zM530 256h1v1h-1zM531 256h1v1h-1zM532 256h1v1h-1zM533 256h1v1h-1zM534 255h1v1h-1zM535 255h1v1h-1zM536 254h1v1h-1zM537 254h1v1h-1zM538 253h1v1h-1zM539 253h1v1h-1zM540 253h1v1h-1zM541 252h1v1h-1zM542 252h1v1h-1zM543 251h1v1h-1zM544 250h1v1h-1zM545 250h1v1h-1zM546 249h1v1h-1zM547 249h1v1h-1zM548 248h1v1h-1zM549 247h1v1h-1zM550 246h1v1h-1zM551 246h1v1h-1zM552 245h1v1h-1zM553 244h1v1h-1zM554 244h1v1h-1zM555 244h1v1h-1zM556 244h1v1h-1zM557 244h1v1h-1zM558 244h1v1h-1zM559 244h1v1h-1zM560 245h1v1h-1zM561 245h1v1h-1zM562 245h1v1h-1zM563 246h1v1h-1zM564 246h1v1h-1zM565 247h1v1h-1zM566 247h1v1h-1zM567 248h1v1h-1zM568 248h1v1h-1zM569 249h1v1h-1zM570 250h1v1h-1zM571 250h1v1h-1zM572 250h1v1h-1zM573 251h1v1h-1zM574 251h1v1h-1zM575 251h1v1h-1zM576 252h1v1h-1zM577 252h1v1h-1zM578 252h1v1h-1zM579 253h1v1h-1zM580 253h1v1h-1zM581 254h1v1h-1zM582 254h1v1h-1zM583 255h1v1h-1zM584 254h1v1h-1zM585 254h1v1h-1zM586 253h1v1h-1zM587 253h1v1h-1zM588 252h1v1h-1zM589 252h1v1h-1zM590 251h1v1h-1zM591 251h1v1h-1zM592 251h1v1h-1zM593 251h1v1h-1zM594 250h1v1h-1zM595 250h1v1h-1zM596 250h1v1h-1zM597 250h1v1h-1zM598 250h1v1h-1zM599 250h1v1h-1zM600 250h1v1h-1zM601 250h1v1h-1zM602 250h1v1h-1zM603 250h1v1h-1zM604 251h1v1h-1zM605 251h1v1h-1zM606 251h1v1h-1zM607 251h1v1h-1zM608 251h1v1h-1zM609 251h1v1h-1zM610 251h1v1h-1zM611 251h1v1h-1zM612 251h1v1h-1zM613 251h1v1h-1zM614 251h1v1h-1zM615 251h1v1h-1zM616 251h1v1h-1zM617 251h1v1h-1zM618 251h1v1h-1zM619 250h1v1h-1zM620 250h1v1h-1zM621 250h1v1h-1zM622 250h1v1h-1zM623 250h1v1h-1zM624 249h1v1h-1zM625 249h1v1h-1zM626 249h1v1h-1zM627 249h1v1h-1zM628 248h1v1h-1zM629 248h1v1h-1zM630 248h1v1h-1zM631 248h1v1h-1zM632 248h1v1h-1zM633 249h1v1h-1zM634 249h1v1h-1zM635 249h1v1h-1zM636 249h1v1h-1zM637 250h1v1h-1zM638 250h1v1h-1zM639 249h1v1h-1zM640 249h1v1h-1zM641 248h1v1h-1zM642 248h1v1h-1zM643 247h1v1h-1zM644 247h1v1h-1zM645 247h1v1h-1zM646 246h1v1h-1zM647 246h1v1h-1zM648 246h1v1h-1zM649 246h1v1h-1zM650 246h1v1h-1zM651 246h1v1h-1zM652 246h1v1h-1zM653 245h1v1h-1zM654 245h1v1h-1zM655 245h1v1h-1zM656 245h1v1h-1zM657 245h1v1h-1zM658 245h1v1h-1zM659 245h1v1h-1zM660 245h1v1h-1zM661 245h1v1h-1zM662 245h1v1h-1zM663 245h1v1h-1zM664 245h1v1h-1zM665 245h1v1h-1zM666 245h1v1h-1zM667 245h1v1h-1zM668 246h1v1h-1zM669 246h1v1h-1zM670 247h1v1h-1zM671 247h1v1h-1zM672 248h1v1h-1zM673 249h1v1h-1zM674 250h1v1h-1zM675 251h1v1h-1zM676 251h1v1h-1zM677 252h1v1h-1zM678 253h1v1h-1zM679 254h1v1h-1zM680 255h1v1h-1zM681 256h1v1h-1zM682 256h1v1h-1zM683 257h1v1h-1zM684 258h1v1h-1zM685 259h1v1h-1zM686 259h1v1h-1zM687 260h1v1h-1zM688 261h1v1h-1zM689 262h1v1h-1zM690 262h1v1h-1zM691 263h1v1h-1zM692 263h1v1h-1zM693 264h1v1h-1zM694 264h1v1h-1zM695 265h1v1h-1zM696 265h1v1h-1zM697 265h1v1h-1zM698 266h1v1h-1zM699 266h1v1h-1zM700 267h1v1h-1zM701 267h1v1h-1zM702 268h1v1h-1zM703 269h1v1h-1zM704 270h1v1h-1zM705 271h1v1h-1zM706 272h1v1h-1zM707 273h1v1h-1zM708 274h1v1h-1zM709 275h1v1h-1zM710 276h1v1h-1zM711 277h1v1h-1zM712 278h1v1h-1zM713 279h1v2h-1zM714 281h1v1h-1zM715 282h1v1h-1zM716 283h1v2h-1zM717 285h1v1h-1zM718 286h1v2h-1zM719 288h1v1h-1zM720 289h1v1h-1zM721 290h1v1h-1zM722 291h1v2h-1zM723 293h1v1h-1zM724 294h1v1h-1zM725 294h1v1h-1zM726 294h1v1h-1zM727 295h1v1h-1zM728 295h1v1h-1zM729 295h1v1h-1zM730 296h1v1h-1zM731 296h1v1h-1zM732 296h1v1h-1zM733 296h1v1h-1zM734 296h1v1h-1zM735 296h1v1h-1zM736 296h1v1h-1zM737 296h1v1h-1zM738 296h1v1h-1zM739 295h1v1h-1zM740 295h1v1h-1zM741 295h1v1h-1zM742 295h1v1h-1zM743 294h1v1h-1zM744 294h1v1h-1zM745 294h1v1h-1zM746 294h1v1h-1zM747 294h1v1h-1zM748 294h1v1h-1zM749 294h1v1h-1zM750 294h1v1h-1zM751 294h1v1h-1zM752 294h1v1h-1zM753 294h1v1h-1zM754 294h1v1h-1zM755 294h1v1h-1zM756 293h1v1h-1zM757 293h1v1h-1zM758 293h1v1h-1zM759 292h1v1h-1zM760 292h1v1h-1zM761 292h1v1h-1zM762 291h1v1h-1zM763 291h1v1h-1zM764 290h1v1h-1zM765 290h1v1h-1zM766 290h1v1h-1zM767 289h1v1h-1zM768 289h1v1h-1zM769 288h1v1h-1zM770 287h1v1h-1zM771 287h1v1h-1zM772 287h1v1h-1zM773 287h1v1h-1zM774 287h1v1h-1zM775 287h1v1h-1zM776 288h1v1h-1zM777 288h1v1h-1zM778 288h1v1h-1zM779 289h1v1h-1zM780 289h1v1h-1zM781 290h1v1h-1zM782 290h1v1h-1zM783 291h1v1h-1zM784 291h1v1h-1zM785 291h1v1h-1zM786 291h1v1h-1zM787 291h1v1h-1zM788 291h1v1h-1zM789 290h1v1h-1zM790 290h1v1h-1zM791 290h1v1h-1zM792 290h1v1h-1zM793 290h1v1h-1zM794 290h1v1h-1zM795 289h1v1h-1zM796 289h1v1h-1zM797 288h1v1h-1zM798 288h1v1h-1zM799 288h1v1h-1zM800 287h1v1h-1zM801 287h1v1h-1zM802 287h1v1h-1zM803 286h1v1h-1zM804 286h1v1h-1zM805 286h1v1h-1zM806 286h1v1h-1zM807 286h1v1h-1zM808 286h1v1h-1zM809 286h1v1h-1zM810 286h1v1h-1zM811 286h1v1h-1zM812 286h1v1h-1zM813 286h1v1h-1zM814 287h1v1h-1zM815 287h1v1h-1zM816 288h1v1h-1zM817 288h1v1h-1zM818 289h1v1h-1zM819 290h1v1h-1zM820 291h1v1h-1zM821 292h1v1h-1zM822 293h1v1h-1zM823 294h1v1h-1zM824 295h1v1h-1zM825 296h1v1h-1zM826 297h1v1h-1zM827 298h1v1h-1zM828 298h1v1h-1zM829 299h1v1h-1zM830 300h1v1h-1zM831 301h1v1h-1zM832 302h1v1h-1zM833 303h1v1h-1zM834 304h1v2h-1zM835 306h1v1h-1zM836 307h1v2h-1zM837 309h1v1h-1zM838 310h1v2h-1zM839 312h1v1h-1zM840 313h1v2h-1zM841 315h1v1h-1zM842 316h1v2h-1zM843 318h1v1h-1zM844 319h1v2h-1zM845 321h1v1h-1zM846 322h1v2h-1zM847 324h1v2h-1zM848 326h1v2h-1zM849 328h1v1h-1zM850 329h1v2h-1zM851 331h1v2h-1zM852 333h1v2h-1zM853 335h1v2h-1zM854 337h1v1h-1zM855 338h1v2h-1zM856 340h1v2h-1zM857 342h1v1h-1zM858 343h1v2h-1zM859 345h1v1h-1zM860 346h1v2h-1zM861 348h1v1h-1zM862 349h1v1h-1zM863 349h1v1h-1zM864 350h1v1h-1zM865 350h1v1h-1zM866 351h1v1h-1zM867 352h1v1h-1zM868 353h1v2h-1zM869 355h1v1h-1zM870 356h1v1h-1zM871 357h1v1h-1zM872 358h1v1h-1zM873 359h1v1h-1zM874 360h1v1h-1zM875 361h1v1h-1zM876 362h1v1h-1zM877 363h1v1h-1zM878 364h1v1h-1zM879 365h1v1h-1zM880 366h1v1h-1zM881 367h1v1h-1zM882 368h1v2h-1zM883 370h1v1h-1zM884 371h1v1h-1zM885 372h1v1h-1zM886 373h1v1h-1zM887 374h1v2h-1zM888 376h1v1h-1zM889 377h1v1h-1zM890 378h1v1h-1zM891 379h1v1h-1zM892 380h1v1h-1zM893 381h1v1h-1zM894 382h1v1h-1zM895 383h1v1h-1zM896 384h1v1h-1zM897 385h1v1h-1zM898 386h1v1h-1zM899 387h1v1h-1zM900 388h1v1h-1zM901 388h1v1h-1zM902 389h1v1h-1zM903 390h1v1h-1zM904 391h1v1h-1zM905 392h1v1h-1zM906 393h1v1h-1zM907 394h1v1h-1zM908 395h1v1h-1zM909 396h1v1h-1zM910 397h1v2h-1zM911 399h1v1h-1zM912 400h1v1h-1zM913 401h1v1h-1zM914 401h1v1h-1zM915 402h1v1h-1zM916 402h1v1h-1zM917 403h1v1h-1zM918 404h1v1h-1zM919 404h1v1h-1zM920 405h1v1h-1zM921 405h1v1h-1zM922 405h1v1h-1zM923 405h1v1h-1zM924 406h1v1h-1zM925 406h1v1h-1zM926 406h1v1h-1z" fill="#0000d0"/>
<path d="M6 318h1v1h-1zM7 319h1v1h-1zM8 319h1v1h-1zM9 319h1v1h-1zM10 319h1v1h-1zM11 320h1v1h-1zM12 320h1v1h-1zM13 320h1v1h-1zM14 320h1v1h-1zM15 320h1v1h-1zM16 320h1v1h-1zM17 320h1v1h-1zM18 319h1v1h-1zM19 319h1v1h-1zM20 319h1v1h-1zM21 318h1v1h-1zM22 318h1v1h-1zM23 318h1v1h-1zM24 317h1v1h-1zM25 317h1v1h-1zM26 317h1v1h-1zM27 316h1v1h-1zM28 314h1v2h-1zM29 313h1v1h-1zM30 312h1v1h-1zM31 311h1v1h-1zM32 310h1v1h-1zM33 309h1v1h-1zM34 307h1v2h-1zM35 306h1v1h-1zM36 305h1v1h-1zM37 303h1v2h-1zM38 301h1v2h-1zM39 299h1v2h-1zM40 297h1v2h-1zM41 295h1v2h-1zM42 293h1v2h-1zM43 291h1v2h-1zM44 289h1v2h-1zM45 287h1v2h-1zM46 284h1v3h-1zM47 282h1v2h-1zM48 280h1v2h-1zM49 278h1v2h-1zM50 276h1v2h-1zM51 274h1v2h-1zM52 271h1v3h-1zM53 269h1v2h-1zM54 267h1v2h-1zM55 264h1v3h-1zM56 262h1v2h-1zM57 260h1v2h-1zM58 258h1v2h-1zM59 255h1v3h-1zM60 253h1v2h-1zM61 251h1v2h-1zM62 248h1v3h-1zM63 246h1v2h-1zM64 244h1v2h-1zM65 242h1v2h-1zM66 240h1v2h-1zM67 238h1v2h-1zM68 236h1v2h-1zM69 235h1v1h-1zM70 234h1v1h-1zM71 232h1v2h-1zM72 231h1v1h-1zM73 230h1v1h-1zM74 229h1v1h-1zM75 228h1v1h-1zM76 226h1v2h-1zM77 225h1v1h-1zM78 224h1v1h-1zM79 222h1v2h-1zM80 221h1v1h-1zM81 219h1v2h-1zM82 218h1v1h-1zM83 217h1v1h-1zM84 215h1v2h-1zM85 214h1v1h-1zM86 213h1v1h-1zM87 212h1v1h-1zM88 212h1v1h-1zM89 211h1v1h-1zM90 210h1v1h-1zM91 210h1v1h-1zM92 209h1v1h-1zM93 208h1v1h-1zM94 208h1v1h-1zM95 207h1v1h-1zM96 206h1v1h-1zM97 206h1v1h-1zM98 205h1v1h-1zM99 204h1v1h-1zM100 204h1v1h-1zM101 203h1v1h-1zM102 203h1v1h-1zM103 202h1v1h-1zM104 201h1v1h-1zM105 201h1v1h-1zM106 200h1v1h-1zM107 199h1v1h-1zM108 199h1v1h-1zM109 198h1v1h-1zM110 198h1v1h-1zM111 197h1v1h-1zM112 196h1v1h-1zM113 196h1v1h-1zM114 196h1v1h-1zM115 196h1v1h-1zM116 196h1v1h-1zM117 196h1v1h-1zM118 196h1v1h-1zM119 196h1v1h-1zM120 196h1v1h-1zM121 196h1v1h-1zM122 195h1v1h-1zM123 195h1v1h-1zM124 194h1v1h-1zM125 193h1v1h-1zM126 193h1v1h-1zM127 191h1v2h-1zM128 190h1v1h-1zM129 188h1v2h-1zM130 187h1v1h-1zM131 185h1v2h-1zM132 184h1v1h-1zM133 183h1v1h-1zM134 182h1v1h-1zM135 180h1v2h-1zM136 179h1v1h-1zM137 177h1v2h-1zM138 174h1v3h-1zM139 172h1v2h-1zM140 169h1v3h-1zM141 166h1v3h-1zM142 164h1v2h-1zM143 161h1v3h-1zM144 159h1v2h-1zM145 157h1v2h-1zM146 155h1v2h-1zM147 152h1v3h-1zM148 150h1v2h-1zM149 148h1v2h-1zM150 145h1v3h-1zM151 143h1v2h-1zM152 141h1v2h-1zM153 138h1v3h-1zM154 136h1v2h-1zM155 134h1v2h-1zM156 132h1v2h-1zM157 130h1v2h-1zM158 128h1v2h-1zM159 127h1v1h-1zM160 125h1v2h-1zM161 124h1v1h-1zM162 123h1v1h-1zM163 122h1v1h-1zM164 121h1v1h-1zM165 119h1v2h-1zM166 118h1v1h-1zM167 117h1v1h-1zM168 116h1v1h-1zM169 114h1v2h-1zM170 113h1v1h-1zM171 112h1v1h-1zM172 111h1v1h-1zM173 110h1v1h-1zM174 109h1v1h-1zM175 108h1v1h-1zM176 107h1v1h-1zM177 106h1v1h-1zM178 105h1v1h-1zM179 104h1v1h-1zM180 104h1v1h-1zM181 103h1v1h-1zM182 103h1v1h-1zM183 103h1v1h-1zM184 103h1v1h-1zM185 103h1v1h-1zM186 103h1v1h-1zM187 103h1v1h-1zM188 102h1v1h-1zM189 103h1v1h-1zM190 104h1v1h-1zM191 104h1v1h-1zM192 105h1v1h-1zM193 106h1v1h-1zM194 106h1v1h-1zM195 107h1v1h-1zM196 108h1v2h-1zM197 110h1v1h-1zM198 111h1v2h-1zM199 113h1v1h-1zM200 114h1v2h-1zM201 116h1v1h-1zM202 117h1v2h-1zM203 119h1v1h-1zM204 120h1v2h-1zM205 122h1v2h-1zM206 124h1v2h-1zM207 126h1v2h-1zM208 128h1v2h-1zM209 130h1v2h-1zM210 132h1v2h-1zM211 134h1v2h-1zM212 136h1v2h-1zM213 138h1v2h-1zM214 140h1v2h-1zM215 142h1v2h-1zM216 144h1v2h-1zM217 146h1v2h-1zM218 148h1v2h-1zM219 150h1v2h-1zM220 152h1v2h-1zM221 154h1v1h-1zM222 155h1v2h-1zM223 157h1v1h-1zM224 158h1v2h-1zM225 160h1v1h-1zM226 161h1v2h-1zM227 163h1v2h-1zM228 165h1v2h-1zM229 167h1v3h-1zM230 170h1v3h-1zM231 173h1v2h-1zM232 175h1v3h-1zM233 178h1v3h-1zM234 181h1v2h-1zM235 183h1v3h-1zM236 186h1v2h-1zM237 188h1v3h-1zM238 191h1v2h-1zM239 193h1v3h-1zM240 196h1v3h-1zM241 199h1v3h-1zM242 202h1v2h-1zM243 204h1v3h-1zM244 207h1v3h-1zM245 210h1v3h-1zM246 213h1v2h-1zM247 215h1v2h-1zM248 217h1v1h-1zM249 218h1v2h-1zM250 220h1v1h-1zM251 221h1v2h-1zM252 223h1v1h-1zM253 224h1v2h-1zM254 226h1v2h-1zM255 228h1v1h-1zM256 229h1v2h-1zM257 231h1v1h-1zM258 232h1v2h-1zM259 234h1v2h-1zM260 236h1v1h-1zM261 237h1v1h-1zM262 238h1v1h-1zM263 239h1v1h-1zM264 240h1v1h-1zM265 241h1v1h-1zM266 242h1v2h-1zM267 244h1v1h-1zM268 245h1v1h-1zM269 246h1v2h-1zM270 248h1v2h-1zM271 250h1v2h-1zM272 252h1v2h-1zM273 254h1v2h-1zM274 256h1v2h-1zM275 258h1v2h-1zM276 260h1v2h-1zM277 262h1v2h-1zM278 264h1v2h-1zM279 266h1v3h-1zM280 269h1v3h-1zM281 272h1v3h-1zM282 275h1v2h-1zM283 277h1v2h-1zM284 279h1v2h-1zM285 281h1v2h-1zM286 283h1v1h-1zM287 284h1v1h-1zM288 285h1v1h-1zM289 285h1v1h-1zM290 286h1v1h-1zM291 286h1v1h-1zM292 287h1v1h-1zM293 288h1v1h-1zM294 289h1v1h-1zM295 290h1v1h-1zM296 291h1v2h-1zM297 293h1v1h-1zM298 294h1v1h-1zM299 295h1v1h-1zM300 296h1v1h-1zM301 296h1v1h-1zM302 297h1v1h-1zM303 298h1v1h-1zM304 299h1v1h-1zM305 299h1v1h-1zM306 300h1v1h-1zM307 301h1v2h-1zM308 303h1v1h-1zM309 304h1v1h-1zM310 305h1v2h-1zM311 307h1v1h-1zM312 308h1v1h-1zM313 309h1v2h-1zM314 311h1v1h-1zM315 312h1v2h-1zM316 314h1v2h-1zM317 316h1v2h-1zM318 318h1v2h-1zM319 320h1v2h-1zM320 322h1v1h-1zM321 323h1v2h-1zM322 325h1v1h-1zM323 326h1v1h-1zM324 327h1v1h-1zM325 328h1v1h-1zM326 328h1v1h-1zM327 329h1v1h-1zM328 329h1v1h-1zM329 329h1v1h-1zM330 329h1v1h-1zM331 330h1v1h-1zM332 330h1v1h-1zM333 330h1v1h-1zM334 331h1v1h-1zM335 332h1v1h-1zM336 332h1v1h-1zM337 333h1v1h-1zM338 333h1v2h-1zM339 335h1v2h-1zM340 337h1v2h-1zM341 339h1v2h-1zM342 341h1v2h-1zM343 343h1v2h-1zM344 345h1v3h-1zM345 348h1v3h-1zM346 351h1v3h-1zM347 354h1v3h-1zM348 357h1v3h-1zM349 360h1v3h-1zM350 363h1v2h-1zM351 365h1v2h-1zM352 367h1v2h-1zM353 369h1v2h-1zM354 371h1v2h-1zM355 373h1v3h-1zM356 376h1v2h-1zM357 378h1v2h-1zM358 380h1v2h-1zM359 382h1v2h-1zM360 384h1v1h-1zM361 385h1v2h-1zM362 387h1v2h-1zM363 389h1v1h-1zM364 390h1v1h-1zM365 391h1v1h-1zM366 392h1v1h-1zM367 393h1v1h-1zM368 394h1v1h-1zM369 395h1v2h-1zM370 397h1v1h-1zM371 398h1v2h-1zM372 400h1v1h-1zM373 401h1v2h-1zM374 403h1v1h-1zM375 404h1v2h-1zM376 406h1v2h-1zM377 408h1v2h-1zM378 410h1v1h-1zM379 411h1v2h-1zM380 413h1v1h-1zM381 414h1v1h-1zM382 415h1v1h-1zM383 416h1v1h-1zM384 417h1v1h-1zM385 418h1v1h-1zM386 419h1v1h-1zM387 419h1v1h-1zM388 419h1v1h-1zM389 420h1v1h-1zM390 420h1v1h-1zM391 420h1v1h-1zM392 420h1v1h-1zM393 419h1v1h-1zM394 419h1v1h-1zM395 418h1v1h-1zM396 418h1v1h-1zM397 417h1v1h-1zM398 416h1v2h-1zM399 415h1v1h-1zM400 414h1v1h-1zM401 413h1v1h-1zM402 411h1v2h-1zM403 410h1v1h-1zM404 409h1v1h-1zM405 408h1v1h-1zM406 407h1v1h-1zM407 406h1v1h-1zM408 405h1v1h-1zM409 405h1v1h-1zM410 404h1v1h-1zM411 401h1v3h-1zM412 397h1v4h-1zM413 393h1v4h-1zM414 389h1v4h-1zM415 387h1v2h-1zM416 386h1v1h-1zM417 384h1v2h-1zM418 381h1v3h-1zM419 379h1v2h-1zM420 377h1v2h-1zM421 375h1v2h-1zM422 373h1v2h-1zM423 370h1v3h-1zM424 368h1v2h-1zM425 366h1v2h-1zM426 363h1v3h-1zM427 360h1v3h-1zM428 357h1v3h-1zM429 353h1v4h-1zM430 350h1v3h-1zM431 347h1v3h-1zM432 344h1v3h-1zM433 342h1v2h-1zM434 339h1v3h-1zM435 336h1v3h-1zM436 334h1v2h-1zM437 331h1v3h-1zM438 328h1v3h-1zM439 326h1v2h-1zM440 324h1v2h-1zM441 321h1v3h-1zM442 319h1v2h-1zM443 317h1v2h-1zM444 315h1v2h-1zM445 313h1v2h-1zM446 311h1v2h-1zM447 309h1v2h-1zM448 307h1v2h-1zM449 305h1v2h-1zM450 304h1v1h-1zM451 302h1v2h-1zM452 300h1v2h-1zM453 298h1v2h-1zM454 295h1v3h-1zM455 293h1v2h-1zM456 290h1v3h-1zM457 288h1v2h-1zM458 285h1v3h-1zM459 283h1v2h-1zM460 281h1v2h-1zM461 279h1v2h-1zM462 277h1v2h-1zM463 275h1v2h-1zM464 273h1v2h-1zM465 271h1v2h-1zM466 270h1v1h-1zM467 269h1v1h-1zM468 268h1v1h-1zM469 268h1v1h-1zM470 267h1v1h-1zM471 267h1v1h-1zM472 266h1v1h-1zM473 266h1v1h-1zM474 265h1v1h-1zM475 265h1v1h-1zM476 264h1v1h-1zM477 264h1v1h-1zM478 264h1v1h-1zM479 263h1v1h-1zM480 263h1v1h-1zM481 262h1v1h-1zM482 262h1v1h-1zM483 262h1v1h-1zM484 261h1v1h-1zM485 261h1v1h-1zM486 261h1v1h-1zM487 260h1v1h-1zM488 260h1v1h-1zM489 260h1v1h-1zM490 259h1v1h-1zM491 259h1v1h-1zM492 259h1v1h-1zM493 258h1v1h-1zM494 258h1v1h-1zM495 258h1v1h-1zM496 258h1v1h-1zM497 257h1v1h-1zM498 257h1v1h-1zM499 257h1v1h-1zM500 256h1v1h-1zM501 256h1v1h-1zM502 256h1v1h-1zM503 255h1v1h-1zM504 255h1v1h-1zM505 255h1v1h-1zM506 255h1v1h-1zM507 255h1v1h-1zM508 255h1v1h-1zM509 255h1v1h-1zM510 255h1v1h-1zM511 255h1v1h-1zM512 255h1v1h-1zM513 255h1v1h-1zM514 255h1v1h-1zM515 254h1v1h-1zM516 254h1v1h-1zM517 253h1v1h-1zM518 253h1v1h-1zM519 252h1v1h-1zM520 252h1v1h-1zM521 252h1v1h-1zM522 251h1v1h-1zM523 251h1v1h-1zM524 250h1v1h-1zM525 250h1v1h-1zM526 250h1v1h-1zM527 250h1v1h-1zM528 250h1v1h-1zM529 250h1v1h-1zM530 250h1v1h-1zM531 250h1v1h-1zM532 250h1v1h-1zM533 250h1v1h-1zM534 250h1v1h-1zM535 250h1v1h-1zM536 250h1v1h-1zM537 251h1v1h-1zM538 251h1v1h-1zM539 251h1v1h-1zM540 252h1v1h-1zM541 252h1v1h-1zM542 252h1v1h-1zM543 252h1v1h-1zM544 252h1v1h-1zM545 252h1v1h-1zM546 252h1v1h-1zM547 252h1v1h-1zM548 252h1v1h-1zM549 251h1v1h-1zM550 251h1v1h-1zM551 250h1v1h-1zM552 249h1v1h-1zM553 248h1v1h-1zM554 248h1v1h-1zM555 247h1v1h-1zM556 247h1v1h-1zM557 246h1v1h-1zM558 246h1v1h-1zM559 245h1v1h-1zM560 245h1v1h-1zM561 244h1v1h-1zM562 244h1v1h-1zM563 244h1v1h-1zM564 244h1v1h-1zM565 244h1v1h-1zM566 244h1v1h-1zM567 244h1v1h-1zM568 245h1v1h-1zM569 245h1v1h-1zM570 246h1v1h-1zM571 246h1v1h-1zM572 247h1v1h-1zM573 247h1v1h-1zM574 248h1v1h-1zM575 248h1v1h-1zM576 249h1v1h-1zM577 250h1v1h-1zM578 250h1v1h-1zM579 251h1v1h-1zM580 252h1v1h-1zM581 253h1v1h-1zM582 254h1v1h-1zM583 255h1v1h-1zM584 255h1v1h-1zM585 254h1v1h-1zM586 254h1v1h-1zM587 253h1v1h-1zM588 253h1v1h-1zM589 253h1v1h-1zM590 252h1v1h-1zM591 252h1v1h-1zM592 252h1v1h-1zM593 252h1v1h-1zM594 252h1v1h-1zM595 252h1v1h-1zM596 252h1v1h-1zM597 251h1v1h-1zM598 251h1v1h-1zM599 251h1v1h-1zM600 252h1v1h-1zM601 252h1v1h-1zM602 253h1v1h-1zM603 253h1v1h-1zM604 254h1v2h-1zM605 256h1v2h-1zM606 258h1v1h-1zM607 259h1v1h-1zM608 260h1v1h-1zM609 260h1v1h-1zM610 261h1v1h-1zM611 261h1v1h-1zM612 260h1v1h-1zM613 260h1v1h-1zM614 259h1v1h-1zM615 259h1v1h-1zM616 258h1v1h-1zM617 258h1v1h-1zM618 257h1v1h-1zM619 257h1v1h-1zM620 256h1v1h-1zM621 255h1v1h-1zM622 254h1v1h-1zM623 253h1v1h-1zM624 253h1v1h-1zM625 252h1v1h-1zM626 251h1v1h-1zM627 250h1v1h-1zM628 249h1v1h-1zM629 248h1v1h-1zM630 247h1v1h-1zM631 246h1v1h-1zM632 244h1v2h-1zM633 243h1v1h-1zM634 241h1v2h-1zM635 240h1v1h-1zM636 239h1v1h-1zM637 237h1v2h-1zM638 236h1v1h-1zM639 236h1v1h-1zM640 236h1v1h-1zM641 236h1v1h-1zM642 236h1v1h-1zM643 236h1v1h-1zM644 236h1v1h-1zM645 236h1v1h-1zM646 237h1v1h-1zM647 237h1v1h-1zM648 237h1v1h-1zM649 238h1v1h-1zM650 238h1v1h-1zM651 238h1v1h-1zM652 238h1v1h-1zM653 239h1v1h-1zM654 239h1v1h-1zM655 239h1v1h-1zM656 239h1v1h-1zM657 239h1v1h-1zM658 240h1v1h-1zM659 240h1v1h-1zM660 241h1v1h-1zM661 241h1v1h-1zM662 242h1v1h-1zM663 242h1v1h-1zM664 243h1v1h-1zM665 243h1v1h-1zM666 244h1v1h-1zM667 245h1v1h-1zM668 246h1v1h-1zM669 246h1v1h-1zM670 247h1v1h-1zM671 248h1v1h-1zM672 249h1v1h-1zM673 250h1v1h-1zM674 250h1v2h-1zM675 252h1v1h-1zM676 253h1v2h-1zM677 255h1v1h-1zM678 256h1v2h-1zM679 258h1v1h-1zM680 259h1v2h-1zM681 261h1v1h-1zM682 262h1v2h-1zM683 264h1v2h-1zM684 266h1v2h-1zM685 268h1v2h-1zM686 270h1v2h-1zM687 272h1v2h-1zM688 274h1v1h-1zM689 275h1v1h-1zM690 276h1v2h-1zM691 278h1v1h-1zM692 279h1v1h-1zM693 280h1v2h-1zM694 282h1v1h-1zM695 283h1v1h-1zM696 283h1v1h-1zM697 284h1v1h-1zM698 285h1v1h-1zM699 285h1v1h-1zM700 286h1v1h-1zM701 287h1v1h-1zM702 288h1v1h-1zM703 289h1v2h-1zM704 291h1v1h-1zM705 292h1v1h-1zM706 293h1v2h-1zM707 295h1v1h-1zM708 296h1v1h-1zM709 297h1v1h-1zM710 297h1v1h-1zM711 298h1v1h-1zM712 299h1v1h-1zM713 299h1v1h-1zM714 300h1v1h-1zM715 301h1v1h-1zM716 302h1v1h-1zM717 303h1v1h-1zM718 304h1v1h-1zM719 305h1v1h-1zM720 306h1v1h-1zM721 307h1v1h-1zM722 308h1v1h-1zM723 309h1v1h-1zM724 309h1v1h-1zM725 309h1v1h-1zM726 309h1v1h-1zM727 308h1v1h-1zM728 308h1v1h-1zM729 307h1v1h-1zM730 307h1v1h-1zM731 306h1v1h-1zM732 305h1v1h-1zM733 305h1v1h-1zM734 303h1v2h-1zM735 302h1v1h-1zM736 300h1v2h-1zM737 299h1v1h-1zM738 298h1v1h-1zM739 296h1v2h-1zM740 295h1v1h-1zM741 294h1v1h-1zM742 293h1v1h-1zM743 292h1v1h-1zM744 291h1v1h-1zM745 291h1v1h-1zM746 290h1v1h-1zM747 290h1v1h-1zM748 290h1v1h-1zM749 290h1v1h-1zM750 290h1v1h-1zM751 290h1v1h-1zM752 289h1v1h-1zM753 289h1v1h-1zM754 289h1v1h-1zM755 288h1v1h-1zM756 288h1v1h-1zM757 288h1v1h-1zM758 287h1v1h-1zM759 287h1v1h-1zM760 287h1v1h-1zM761 286h1v1h-1zM762 285h1v1h-1zM763 285h1v1h-1zM764 284h1v1h-1zM765 284h1v1h-1zM766 283h1v1h-1zM767 282h1v1h-1zM768 281h1v1h-1zM769 280h1v1h-1zM770 279h1v1h-1zM771 278h1v1h-1zM772 277h1v1h-1zM773 277h1v1h-1zM774 277h1v1h-1zM775 277h1v1h-1zM776 276h1v1h-1zM777 276h1v1h-1zM778 276h1v1h-1zM779 276h1v1h-1zM780 277h1v1h-1zM781 277h1v1h-1zM782 278h1v1h-1zM783 278h1v1h-1zM784 279h1v1h-1zM785 280h1v1h-1zM786 280h1v1h-1zM787 281h1v1h-1zM788 282h1v1h-1zM789 282h1v1h-1zM790 283h1v1h-1zM791 284h1v1h-1zM792 285h1v1h-1zM793 286h1v1h-1zM794 286h1v1h-1zM795 287h1v1h-1zM796 288h1v1h-1zM797 289h1v1h-1zM798 290h1v1h-1zM799 290h1v1h-1zM800 291h1v1h-1zM801 291h1v1h-1zM802 292h1v1h-1zM803 292h1v1h-1zM804 293h1v1h-1zM805 293h1v1h-1zM806 294h1v1h-1zM807 294h1v1h-1zM808 295h1v1h-1zM809 295h1v1h-1zM810 296h1v1h-1zM811 297h1v1h-1zM812 297h1v1h-1zM813 298h1v1h-1zM814 299h1v1h-1zM815 299h1v1h-1zM816 300h1v1h-1zM817 301h1v1h-1zM818 301h1v1h-1zM819 302h1v1h-1zM820 302h1v1h-1zM821 303h1v1h-1zM822 304h1v2h-1zM823 306h1v1h-1zM824 307h1v1h-1zM825 308h1v1h-1zM826 309h1v1h-1zM827 310h1v1h-1zM828 310h1v1h-1zM829 311h1v1h-1zM830 311h1v1h-1zM831 311h1v1h-1zM832 312h1v1h-1zM833 312h1v2h-1zM834 314h1v1h-1zM835 315h1v2h-1zM836 317h1v2h-1zM837 319h1v2h-1zM838 321h1v1h-1zM839 322h1v2h-1zM840 324h1v2h-1zM841 326h1v2h-1zM842 328h1v3h-1zM843 331h1v2h-1zM844 333h1v2h-1zM845 335h1v2h-1zM846 337h1v2h-1zM847 339h1v2h-1zM848 341h1v2h-1zM849 343h1v2h-1zM850 345h1v2h-1zM851 347h1v2h-1zM852 349h1v2h-1zM853 351h1v2h-1zM854 353h1v2h-1zM855 355h1v2h-1zM856 357h1v2h-1zM857 359h1v2h-1zM858 361h1v2h-1zM859 363h1v3h-1zM860 366h1v2h-1zM861 368h1v2h-1zM862 370h1v2h-1zM863 372h1v2h-1zM864 374h1v2h-1zM865 376h1v2h-1zM866 378h1v1h-1zM867 379h1v2h-1zM868 381h1v2h-1zM869 383h1v1h-1zM870 384h1v1h-1zM871 385h1v1h-1zM872 386h1v1h-1zM873 387h1v1h-1zM874 388h1v1h-1zM875 389h1v1h-1zM876 390h1v1h-1zM877 391h1v1h-1zM878 392h1v1h-1zM879 393h1v1h-1zM880 394h1v1h-1zM881 395h1v2h-1zM882 397h1v1h-1zM883 398h1v2h-1zM884 400h1v1h-1zM885 401h1v2h-1zM886 403h1v1h-1zM887 404h1v1h-1zM888 404h1v1h-1zM889 405h1v1h-1zM890 406h1v1h-1zM891 405h1v1h-1zM892 405h1v1h-1zM893 404h1v1h-1zM894 404h1v1h-1zM895 403h1v1h-1zM896 403h1v1h-1zM897 402h1v1h-1zM898 402h1v1h-1zM899 402h1v1h-1zM900 402h1v1h-1zM901 401h1v1h-1zM902 401h1v1h-1zM903 401h1v1h-1zM904 401h1v1h-1zM905 401h1v1h-1zM906 400h1v1h-1zM907 400h1v1h-1zM908 400h1v1h-1zM909 399h1v1h-1zM910 399h1v1h-1zM911 399h1v1h-1zM912 398h1v1h-1zM913 398h1v1h-1zM914 398h1v1h-1zM915 398h1v1h-1zM916 397h1v1h-1zM917 397h1v1h-1zM918 397h1v1h-1zM919 397h1v1h-1zM920 398h1v1h-1zM921 398h1v1h-1zM922 399h1v1h-1zM923 399h1v1h-1zM924 400h1v1h-1zM925 400h1v1h-1zM926 401h1v1h-1z" fill="#ff0000"/>
<path d="M10 261h1V315h-1zM9 263h3V288h-3zM22 254h1V296h-1zM21 256h3V278h-3zM26 266h1V316h-1zM25 277h3V292h-3zM42 249h1V274h-1zM41 259h3V270h-3zM50 248h1V287h-1zM49 250h3V263h-3zM62 157h1V185h-1zM61 175h3V185h-3zM70 100h1V190h-1zM69 124h3V167h-3zM74 158h1V206h-1zM73 166h3V188h-3zM78 182h1V240h-1zM77 188h3V231h-3zM86 203h1V222h-1zM85 206h3V211h-3zM94 199h1V224h-1zM93 207h3V210h-3zM102 188h1V238h-1zM101 192h3V203h-3zM110 188h1V200h-1zM109 189h3V197h-3zM114 180h1V207h-1zM113 184h3V203h-3zM130 113h1V142h-1zM129 119h3V135h-3zM134 127h1V137h-1zM133 134h3V135h-3zM146 80h1V110h-1zM145 85h3V104h-3zM158 60h1V104h-1zM157 70h3V95h-3zM162 80h1V111h-1zM161 90h3V108h-3zM166 95h1V138h-1zM165 100h3V137h-3zM178 90h1V119h-1zM177 95h3V104h-3zM186 85h1V126h-1zM185 90h3V119h-3zM190 100h1V131h-1zM189 118h3V128h-3zM194 123h1V164h-1zM193 126h3V161h-3zM198 129h1V169h-1zM197 160h3V161h-3zM202 143h1V173h-1zM201 160h3V166h-3zM210 147h1V204h-1zM209 158h3V191h-3zM214 188h1V232h-1zM213 190h3V210h-3zM218 202h1V231h-1zM217 210h3V230h-3zM230 223h1V233h-1zM229 226h3V232h-3zM234 225h1V256h-1zM233 229h3V255h-3zM242 232h1V260h-1zM241 248h3V257h-3zM246 249h1V280h-1zM245 256h3V270h-3zM258 240h1V266h-1zM257 258h3V260h-3zM266 222h1V250h-1zM265 233h3V238h-3zM270 227h1V273h-1zM269 237h3V271h-3zM274 267h1V361h-1zM273 270h3V361h-3zM282 337h1V384h-1zM281 362h3V373h-3zM294 279h1V309h-1zM293 283h3V298h-3zM298 295h1V334h-1zM297 296h3V319h-3zM302 315h1V322h-1zM301 318h3V321h-3zM310 310h1V358h-1zM309 311h3V346h-3zM326 315h1V326h-1zM325 318h3V325h-3zM330 316h1V369h-1zM329 326h3V364h-3zM334 362h1V406h-1zM333 363h3V377h-3zM338 367h1V434h-1zM337 376h3V418h-3zM342 404h1V449h-1zM341 417h3V432h-3zM346 424h1V466h-1zM345 432h3V453h-3zM350 452h1V465h-1zM349 453h3V463h-3zM354 435h1V478h-1zM353 443h3V444h-3zM362 407h1V432h-1zM361 422h3V430h-3zM370 370h1V418h-1zM369 392h3V412h-3zM378 391h1V414h-1zM377 404h3V409h-3zM386 385h1V424h-1zM385 391h3V414h-3zM398 391h1V400h-1zM397 392h3V400h-3zM410 372h1V403h-1zM409 373h3V400h-3zM422 281h1V293h-1zM421 284h3V287h-3zM434 219h1V261h-1zM433 237h3V255h-3zM438 235h1V272h-1zM437 255h3V257h-3zM442 254h1V296h-1zM441 257h3V282h-3zM450 265h1V287h-1zM449 284h3V287h-3zM470 248h1V266h-1zM469 252h3V261h-3zM474 254h1V284h-1zM473 261h3V277h-3zM482 235h1V273h-1zM481 241h3V258h-3zM490 209h1V244h-1zM489 215h3V236h-3zM494 232h1V244h-1zM493 235h3V243h-3zM498 239h1V258h-1zM497 248h3V252h-3zM502 241h1V271h-1zM501 251h3V268h-3zM506 237h1V300h-1zM505 267h3V276h-3zM510 261h1V289h-1zM509 275h3V279h-3zM518 242h1V260h-1zM517 243h3V257h-3zM526 212h1V245h-1zM525 227h3V234h-3zM530 227h1V277h-1zM529 234h3V274h-3zM542 240h1V256h-1zM541 240h3V255h-3zM554 156h1V218h-1zM553 167h3V206h-3zM558 189h1V290h-1zM557 205h3V285h-3zM570 259h1V284h-1zM569 271h3V274h-3zM578 266h1V294h-1zM577 270h3V280h-3zM582 271h1V293h-1zM581 278h3V287h-3zM590 241h1V252h-1zM589 244h3V250h-3zM602 222h1V257h-1zM601 233h3V252h-3zM606 242h1V260h-1zM605 252h3V253h-3zM614 248h1V255h-1zM613 249h3V255h-3zM618 243h1V257h-1zM617 245h3V254h-3zM626 214h1V246h-1zM625 218h3V236h-3zM638 201h1V212h-1zM637 201h3V212h-3zM642 207h1V243h-1zM641 207h3V242h-3zM646 235h1V273h-1zM645 241h3V263h-3zM658 233h1V278h-1zM657 246h3V277h-3zM662 273h1V284h-1zM661 276h3V279h-3zM670 260h1V306h-1zM669 274h3V292h-3zM674 274h1V304h-1zM673 290h3V303h-3zM682 287h1V348h-1zM681 302h3V323h-3zM698 276h1V293h-1zM697 283h3V284h-3zM702 277h1V305h-1zM701 283h3V301h-3zM706 291h1V344h-1zM705 301h3V320h-3zM718 304h1V338h-1zM717 314h3V332h-3zM722 312h1V345h-1zM721 331h3V341h-3zM746 233h1V289h-1zM745 240h3V287h-3zM754 259h1V287h-1zM753 277h3V280h-3zM762 265h1V295h-1zM761 280h3V285h-3zM774 246h1V309h-1zM773 255h3V297h-3zM778 278h1V340h-1zM777 297h3V333h-3zM782 331h1V340h-1zM781 333h3V334h-3zM790 282h1V315h-1zM789 299h3V309h-3zM798 280h1V305h-1zM797 282h3V300h-3zM802 287h1V315h-1zM801 299h3V306h-3zM806 300h1V312h-1zM805 305h3V312h-3zM814 274h1V303h-1zM813 290h3V298h-3zM818 287h1V342h-1zM817 296h3V338h-3zM830 325h1V330h-1zM829 325h3V330h-3zM834 320h1V346h-1zM833 332h3V345h-3zM838 336h1V442h-1zM837 344h3V437h-3zM846 391h1V422h-1zM845 405h3V413h-3zM850 394h1V433h-1zM849 412h3V418h-3zM854 413h1V424h-1zM853 416h3V420h-3zM858 412h1V437h-1zM857 422h3V423h-3zM862 416h1V436h-1zM861 422h3V424h-3zM870 383h1V414h-1zM869 406h3V411h-3zM882 374h1V405h-1zM881 377h3V401h-3zM894 380h1V408h-1zM893 386h3V395h-3zM898 377h1V401h-1zM897 394h3V395h-3zM906 392h1V414h-1zM905 394h3V412h-3zM918 377h1V420h-1zM917 403h3V419h-3zM922 400h1V444h-1zM921 418h3V438h-3z" fill="#32cd32"/>
<path d="M6 261h1V338h-1zM5 262h3V308h-3zM14 274h1V293h-1zM13 277h3V288h-3zM18 253h1V303h-1zM17 256h3V300h-3zM30 278h1V311h-1zM29 278h3V292h-3zM34 195h1V282h-1zM33 249h3V281h-3zM38 228h1V252h-1zM37 234h3V250h-3zM46 239h1V276h-1zM45 251h3V269h-3zM54 244h1V267h-1zM53 255h3V263h-3zM58 173h1V259h-1zM57 174h3V256h-3zM66 121h1V200h-1zM65 123h3V195h-3zM82 184h1V254h-1zM81 206h3V231h-3zM90 179h1V222h-1zM89 207h3V213h-3zM98 191h1V213h-1zM97 193h3V209h-3zM106 169h1V207h-1zM105 189h3V203h-3zM118 180h1V205h-1zM117 185h3V203h-3zM122 157h1V190h-1zM121 164h3V186h-3zM126 117h1V170h-1zM125 119h3V166h-3zM138 95h1V137h-1zM137 100h3V131h-3zM142 80h1V104h-1zM141 85h3V100h-3zM150 70h1V104h-1zM149 75h3V100h-3zM154 60h1V100h-1zM153 65h3V90h-3zM170 113h1V141h-1zM169 125h3V136h-3zM174 95h1V132h-1zM173 100h3V125h-3zM182 80h1V104h-1zM181 85h3V100h-3zM206 155h1V167h-1zM205 160h3V166h-3zM222 222h1V246h-1zM221 226h3V230h-3zM226 210h1V237h-1zM225 226h3V227h-3zM238 235h1V264h-1zM237 248h3V255h-3zM250 258h1V280h-1zM249 266h3V270h-3zM254 257h1V269h-1zM253 258h3V266h-3zM262 225h1V266h-1zM261 233h3V260h-3zM278 346h1V363h-1zM277 357h3V361h-3zM286 332h1V374h-1zM285 339h3V374h-3zM290 282h1V347h-1zM289 284h3V340h-3zM306 301h1V323h-1zM305 311h3V319h-3zM314 320h1V358h-1zM313 337h3V346h-3zM318 314h1V347h-1zM317 330h3V338h-3zM322 318h1V342h-1zM321 318h3V330h-3zM358 417h1V463h-1zM357 422h3V444h-3zM366 390h1V432h-1zM365 391h3V430h-3zM374 408h1V412h-1zM373 408h3V412h-3zM382 388h1V420h-1zM381 391h3V409h-3zM390 400h1V431h-1zM389 410h3V414h-3zM394 390h1V428h-1zM393 392h3V411h-3zM402 355h1V400h-1zM401 377h3V398h-3zM406 371h1V391h-1zM405 373h3V377h-3zM414 284h1V410h-1zM413 286h3V401h-3zM418 272h1V316h-1zM417 284h3V287h-3zM426 246h1V297h-1zM425 258h3V292h-3zM430 234h1V278h-1zM429 237h3V258h-3zM446 276h1V285h-1zM445 279h3V281h-3zM454 260h1V289h-1zM453 271h3V286h-3zM458 266h1V287h-1zM457 271h3V272h-3zM462 254h1V273h-1zM461 258h3V271h-3zM466 226h1V266h-1zM465 252h3V258h-3zM478 237h1V286h-1zM477 242h3V277h-3zM486 209h1V266h-1zM485 215h3V258h-3zM514 241h1V285h-1zM513 242h3V279h-3zM522 217h1V254h-1zM521 227h3V252h-3zM534 249h1V282h-1zM533 252h3V274h-3zM538 233h1V266h-1zM537 240h3V253h-3zM546 219h1V254h-1zM545 242h3V254h-3zM550 162h1V252h-1zM549 166h3V242h-3zM562 258h1V299h-1zM561 275h3V285h-3zM566 267h1V282h-1zM565 271h3V276h-3zM574 265h1V282h-1zM573 270h3V274h-3zM586 238h1V289h-1zM585 244h3V287h-3zM594 231h1V258h-1zM593 237h3V243h-3zM598 228h1V248h-1zM597 233h3V238h-3zM610 236h1V254h-1zM609 249h3V252h-3zM622 218h1V260h-1zM621 218h3V254h-3zM630 202h1V248h-1zM629 214h3V236h-3zM634 191h1V216h-1zM633 201h3V214h-3zM650 247h1V269h-1zM649 262h3V263h-3zM654 237h1V269h-1zM653 246h3V263h-3zM666 266h1V278h-1zM665 274h3V277h-3zM678 283h1V306h-1zM677 302h3V303h-3zM686 320h1V331h-1zM685 322h3V324h-3zM690 290h1V322h-1zM689 298h3V322h-3zM694 273h1V306h-1zM693 283h3V298h-3zM710 313h1V324h-1zM709 315h3V320h-3zM714 293h1V318h-1zM713 314h3V318h-3zM726 293h1V347h-1zM725 296h3V341h-3zM730 263h1V311h-1zM729 267h3V297h-3zM734 260h1V270h-1zM733 264h3V268h-3zM738 231h1V264h-1zM737 241h3V258h-3zM742 231h1V261h-1zM741 240h3V242h-3zM750 254h1V297h-1zM749 276h3V287h-3zM758 271h1V283h-1zM757 274h3V280h-3zM766 272h1V295h-1zM765 275h3V285h-3zM770 249h1V279h-1zM769 255h3V275h-3zM786 284h1V319h-1zM785 299h3V315h-3zM794 263h1V313h-1zM793 282h3V308h-3zM810 289h1V328h-1zM809 290h3V308h-3zM822 318h1V347h-1zM821 327h3V338h-3zM826 321h1V351h-1zM825 325h3V328h-3zM842 401h1V448h-1zM841 405h3V437h-3zM866 397h1V436h-1zM865 406h3V424h-3zM874 377h1V424h-1zM873 378h3V411h-3zM878 372h1V380h-1zM877 376h3V380h-3zM886 389h1V406h-1zM885 390h3V401h-3zM890 379h1V403h-1zM889 386h3V391h-3zM902 393h1V401h-1zM901 394h3V395h-3zM910 395h1V419h-1zM909 403h3V412h-3zM914 398h1V419h-1zM913 403h3V404h-3zM926 422h1V441h-1zM925 423h3V439h-3z" fill="#ff0000"/>
<path d="M6 263h1V307h-1zM14 278h1V287h-1zM18 257h1V299h-1zM30 279h1V291h-1zM34 250h1V280h-1zM38 235h1V249h-1zM46 252h1V268h-1zM54 256h1V262h-1zM58 175h1V255h-1zM66 124h1V194h-1zM82 207h1V230h-1zM90 208h1V212h-1zM98 194h1V208h-1zM106 190h1V202h-1zM118 186h1V202h-1zM122 165h1V185h-1zM126 120h1V165h-1zM138 101h1V130h-1zM142 86h1V99h-1zM150 76h1V99h-1zM154 66h1V89h-1zM170 126h1V135h-1zM174 101h1V124h-1zM182 86h1V99h-1zM206 161h1V165h-1zM222 227h1V229h-1zM238 249h1V254h-1zM250 267h1V269h-1zM254 259h1V265h-1zM262 234h1V259h-1zM278 358h1V360h-1zM286 340h1V373h-1zM290 285h1V339h-1zM306 312h1V318h-1zM314 338h1V345h-1zM318 331h1V337h-1zM322 319h1V329h-1zM358 423h1V443h-1zM366 392h1V429h-1zM374 409h1V411h-1zM382 392h1V408h-1zM390 411h1V413h-1zM394 393h1V410h-1zM402 378h1V397h-1zM406 374h1V376h-1zM414 287h1V400h-1zM418 285h1V286h-1zM426 259h1V291h-1zM430 238h1V257h-1zM454 272h1V285h-1zM462 259h1V270h-1zM466 253h1V257h-1zM478 243h1V276h-1zM486 216h1V257h-1zM514 243h1V278h-1zM522 228h1V251h-1zM534 253h1V273h-1zM538 241h1V252h-1zM546 243h1V253h-1zM550 167h1V241h-1zM562 276h1V284h-1zM566 272h1V275h-1zM574 271h1V273h-1zM586 245h1V286h-1zM594 238h1V242h-1zM598 234h1V237h-1zM610 250h1V251h-1zM622 219h1V253h-1zM630 215h1V235h-1zM634 202h1V213h-1zM654 247h1V262h-1zM666 275h1V276h-1zM690 299h1V321h-1zM694 284h1V297h-1zM710 316h1V319h-1zM714 315h1V317h-1zM726 297h1V340h-1zM730 268h1V296h-1zM734 265h1V267h-1zM738 242h1V257h-1zM750 277h1V286h-1zM758 275h1V279h-1zM766 276h1V284h-1zM770 256h1V274h-1zM786 300h1V314h-1zM794 283h1V307h-1zM810 291h1V307h-1zM822 328h1V337h-1zM826 326h1V327h-1zM842 406h1V436h-1zM866 407h1V423h-1zM874 379h1V410h-1zM878 377h1V379h-1zM886 391h1V400h-1zM890 387h1V390h-1zM910 404h1V411h-1zM926 424h1V438h-1z" fill="#ff4500"/>
</g>
<g class="c">
<path d="M6 529h2V546h-2zM9 529h3V544h-3zM13 529h3V540h-3zM17 529h3V536h-3zM21 529h3V534h-3zM25 529h3V534h-3zM29 529h3V532h-3zM33 528h3V529h-3zM37 525h3V529h-3zM41 525h3V529h-3zM45 523h3V529h-3zM49 523h3V529h-3zM53 522h3V529h-3zM57 517h3V529h-3zM61 513h3V529h-3zM65 506h3V529h-3zM69 504h3V529h-3zM73 505h3V529h-3zM77 507h3V529h-3zM81 508h3V529h-3zM85 510h3V529h-3zM89 511h3V529h-3zM93 512h3V529h-3zM97 512h3V529h-3zM101 513h3V529h-3zM105 513h3V529h-3zM109 513h3V529h-3zM113 514h3V529h-3zM117 514h3V529h-3zM121 513h3V529h-3zM125 509h3V529h-3zM129 507h3V529h-3zM133 506h3V529h-3zM137 502h3V529h-3zM141 500h3V529h-3zM145 498h3V529h-3zM149 496h3V529h-3zM153 495h3V529h-3zM157 495h3V529h-3zM161 498h3V529h-3zM165 501h3V529h-3zM169 504h3V529h-3zM173 505h3V529h-3zM177 506h3V529h-3zM181 507h3V529h-3zM185 509h3V529h-3zM189 511h3V529h-3zM193 516h3V529h-3zM197 519h3V529h-3zM201 522h3V529h-3zM205 525h3V529h-3zM209 528h3V529h-3zM213 529h3V534h-3zM217 529h3V538h-3zM221 529h3V542h-3zM225 529h3V544h-3zM229 529h3V546h-3zM233 529h3V548h-3zM237 529h3V551h-3zM241 529h3V552h-3zM245 529h3V554h-3zM249 529h3V555h-3zM253 529h3V555h-3zM257 529h3V555h-3zM261 529h3V553h-3zM265 529h3V553h-3zM269 529h3V553h-3zM273 529h3V558h-3zM277 529h3V562h-3zM281 529h3V566h-3zM285 529h3V567h-3zM289 529h3V563h-3zM293 529h3V560h-3zM297 529h3V559h-3zM301 529h3V558h-3zM305 529h3V557h-3zM309 529h3V558h-3zM313 529h3V558h-3zM317 529h3V557h-3zM321 529h3V554h-3zM325 529h3V553h-3zM329 529h3V554h-3zM333 529h3V555h-3zM337 529h3V560h-3zM341 529h3V562h-3zM345 529h3V567h-3zM349 529h3V570h-3zM353 529h3V570h-3zM357 529h3V569h-3zM361 529h3V568h-3zM365 529h3V565h-3zM369 529h3V562h-3zM373 529h3V561h-3zM377 529h3V559h-3zM381 529h3V556h-3zM385 529h3V554h-3zM389 529h3V553h-3zM393 529h3V550h-3zM397 529h3V548h-3zM401 529h3V546h-3zM405 529h3V543h-3zM409 529h3V541h-3zM413 529h3V534h-3zM417 526h3V529h-3zM421 522h3V529h-3zM425 516h3V529h-3zM429 510h3V529h-3zM433 507h3V529h-3zM437 505h3V529h-3zM441 505h3V529h-3zM445 506h3V529h-3zM449 507h3V529h-3zM453 508h3V529h-3zM457 508h3V529h-3zM461 507h3V529h-3zM465 506h3V529h-3zM469 506h3V529h-3zM473 508h3V529h-3zM477 508h3V529h-3zM481 507h3V529h-3zM485 506h3V529h-3zM489 506h3V529h-3zM493 508h3V529h-3zM497 509h3V529h-3zM501 511h3V529h-3zM505 514h3V529h-3zM509 516h3V529h-3zM513 516h3V529h-3zM517 516h3V529h-3zM521 515h3V529h-3zM525 515h3V529h-3zM529 518h3V529h-3zM533 518h3V529h-3zM537 518h3V529h-3zM541 519h3V529h-3zM545 519h3V529h-3zM549 514h3V529h-3zM553 513h3V529h-3zM557 518h3V529h-3zM561 521h3V529h-3zM565 523h3V529h-3zM569 525h3V529h-3zM573 527h3V529h-3zM577 528h3v1h-3zM581 529h3V531h-3zM585 529h3V529h-3zM589 528h3v1h-3zM593 526h3V529h-3zM597 525h3V529h-3zM601 525h3V529h-3zM605 526h3V529h-3zM609 526h3V529h-3zM613 526h3V529h-3zM617 526h3V529h-3zM621 524h3V529h-3zM625 524h3V529h-3zM629 522h3V529h-3zM633 520h3V529h-3zM637 519h3V529h-3zM641 521h3V529h-3zM645 524h3V529h-3zM649 525h3V529h-3zM653 526h3V529h-3zM657 528h3V529h-3zM661 529h3V531h-3zM665 529h3V532h-3zM669 529h3V535h-3zM673 529h3V537h-3zM677 529h3V538h-3zM681 529h3V542h-3zM685 529h3V544h-3zM689 529h3V543h-3zM693 529h3V542h-3zM697 529h3V541h-3zM701 529h3V541h-3zM705 529h3V541h-3zM709 529h3V542h-3zM713 529h3V542h-3zM717 529h3V544h-3zM721 529h3V545h-3zM725 529h3V543h-3zM729 529h3V540h-3zM733 529h3V536h-3zM737 529h3V532h-3zM741 528h3v1h-3zM745 528h3v1h-3zM749 528h3v1h-3zM753 528h3v1h-3zM757 528h3v1h-3zM761 528h3v1h-3zM765 528h3v1h-3zM769 526h3V529h-3zM773 528h3v1h-3zM777 529h3V533h-3zM781 529h3V535h-3zM785 529h3V535h-3zM789 529h3V536h-3zM793 529h3V534h-3zM797 529h3V533h-3zM801 529h3V535h-3zM805 529h3V535h-3zM809 529h3V535h-3zM813 529h3V535h-3zM817 529h3V536h-3zM821 529h3V537h-3zM825 529h3V538h-3zM829 529h3V539h-3zM833 529h3V540h-3zM837 529h3V547h-3zM841 529h3V550h-3zM845 529h3V553h-3zM849 529h3V555h-3zM853 529h3V557h-3zM857 529h3V558h-3zM861 529h3V559h-3zM865 529h3V558h-3zM869 529h3V556h-3zM873 529h3V553h-3zM877 529h3V551h-3zM881 529h3V550h-3zM885 529h3V548h-3zM889 529h3V547h-3zM893 529h3V546h-3zM897 529h3V545h-3zM901 529h3V544h-3zM905 529h3V545h-3zM909 529h3V544h-3zM913 529h3V543h-3zM917 529h3V544h-3zM921 529h3V544h-3zM925 529h3V544h-3z" fill="#c0c0c0"/>
<path d="M6 552h1v1h-1zM7 552h1v1h-1zM8 552h1v1h-1zM9 551h1v1h-1zM10 551h1v1h-1zM11 550h1v1h-1zM12 550h1v1h-1zM13 550h1v1h-1zM14 549h1v1h-1zM15 549h1v1h-1zM16 549h1v1h-1zM17 548h1v1h-1zM18 548h1v1h-1zM19 547h1v1h-1zM20 547h1v1h-1zM21 546h1v1h-1zM22 546h1v1h-1zM23 545h1v1h-1zM24 545h1v1h-1zM25 545h1v1h-1zM26 544h1v1h-1zM27 543h1v1h-1zM28 542h1v1h-1zM29 542h1v1h-1zM30 541h1v1h-1zM31 540h1v1h-1zM32 539h1v1h-1zM33 539h1v1h-1zM34 538h1v1h-1zM35 537h1v1h-1zM36 536h1v1h-1zM37 536h1v1h-1zM38 535h1v1h-1zM39 534h1v1h-1zM40 533h1v1h-1zM41 533h1v1h-1zM42 532h1v1h-1zM43 532h1v1h-1zM44 531h1v1h-1zM45 531h1v1h-1zM46 530h1v1h-1zM47 530h1v1h-1zM48 529h1v1h-1zM49 529h1v1h-1zM50 528h1v1h-1zM51 528h1v1h-1zM52 527h1v1h-1zM53 527h1v1h-1zM54 527h1v1h-1zM55 526h1v1h-1zM56 526h1v1h-1zM57 525h1v1h-1zM58 525h1v1h-1zM59 524h1v1h-1zM60 524h1v1h-1zM61 523h1v1h-1zM62 523h1v1h-1zM63 522h1v1h-1zM64 522h1v1h-1zM65 521h1v1h-1zM66 520h1v1h-1zM67 520h1v1h-1zM68 519h1v1h-1zM69 518h1v1h-1zM70 518h1v1h-1zM71 517h1v1h-1zM72 516h1v1h-1zM73 516h1v1h-1zM74 515h1v1h-1zM75 515h1v1h-1zM76 514h1v1h-1zM77 513h1v1h-1zM78 513h1v1h-1zM79 513h1v1h-1zM80 512h1v1h-1zM81 512h1v1h-1zM82 511h1v1h-1zM83 511h1v1h-1zM84 511h1v1h-1zM85 510h1v1h-1zM86 510h1v1h-1zM87 510h1v1h-1zM88 509h1v1h-1zM89 509h1v1h-1zM90 509h1v1h-1zM91 509h1v1h-1zM92 509h1v1h-1zM93 508h1v1h-1zM94 508h1v1h-1zM95 508h1v1h-1zM96 508h1v1h-1zM97 508h1v1h-1zM98 508h1v1h-1zM99 508h1v1h-1zM100 508h1v1h-1zM101 509h1v1h-1zM102 509h1v1h-1zM103 509h1v1h-1zM104 509h1v1h-1zM105 509h1v1h-1zM106 510h1v1h-1zM107 510h1v1h-1zM108 510h1v1h-1zM109 510h1v1h-1zM110 511h1v1h-1zM111 511h1v1h-1zM112 511h1v1h-1zM113 511h1v1h-1zM114 511h1v1h-1zM115 511h1v1h-1zM116 512h1v1h-1zM117 512h1v1h-1zM118 512h1v1h-1zM119 512h1v1h-1zM120 512h1v1h-1zM121 512h1v1h-1zM122 513h1v1h-1zM123 513h1v1h-1zM124 513h1v1h-1zM125 513h1v1h-1zM126 512h1v1h-1zM127 512h1v1h-1zM128 512h1v1h-1zM129 512h1v1h-1zM130 512h1v1h-1zM131 512h1v1h-1zM132 511h1v1h-1zM133 511h1v1h-1zM134 511h1v1h-1zM135 510h1v1h-1zM136 510h1v1h-1zM137 510h1v1h-1zM138 509h1v1h-1zM139 509h1v1h-1zM140 509h1v1h-1zM141 508h1v1h-1zM142 508h1v1h-1zM143 507h1v1h-1zM144 507h1v1h-1zM145 507h1v1h-1zM146 506h1v1h-1zM147 506h1v1h-1zM148 505h1v1h-1zM149 505h1v1h-1zM150 504h1v1h-1zM151 504h1v1h-1zM152 503h1v1h-1zM153 503h1v1h-1zM154 502h1v1h-1zM155 502h1v1h-1zM156 501h1v1h-1zM157 501h1v1h-1zM158 501h1v1h-1zM159 500h1v1h-1zM160 500h1v1h-1zM161 500h1v1h-1zM162 499h1v1h-1zM163 499h1v1h-1zM164 499h1v1h-1zM165 499h1v1h-1zM166 499h1v1h-1zM167 499h1v1h-1zM168 499h1v1h-1zM169 499h1v1h-1zM170 499h1v1h-1zM171 499h1v1h-1zM172 499h1v1h-1zM173 499h1v1h-1zM174 499h1v1h-1zM175 499h1v1h-1zM176 499h1v1h-1zM177 499h1v1h-1zM178 499h1v1h-1zM179 500h1v1h-1zM180 500h1v1h-1zM181 500h1v1h-1zM182 500h1v1h-1zM183 501h1v1h-1zM184 501h1v1h-1zM185 501h1v1h-1zM186 502h1v1h-1zM187 502h1v1h-1zM188 503h1v1h-1zM189 503h1v1h-1zM190 503h1v1h-1zM191 504h1v1h-1zM192 505h1v1h-1zM193 505h1v1h-1zM194 506h1v1h-1zM195 506h1v1h-1zM196 507h1v1h-1zM197 507h1v1h-1zM198 508h1v1h-1zM199 509h1v1h-1zM200 509h1v1h-1zM201 510h1v1h-1zM202 510h1v1h-1zM203 511h1v1h-1zM204 511h1v1h-1zM205 512h1v1h-1zM206 513h1v1h-1zM207 513h1v1h-1zM208 514h1v1h-1zM209 515h1v1h-1zM210 515h1v1h-1zM211 516h1v1h-1zM212 517h1v1h-1zM213 517h1v1h-1zM214 518h1v1h-1zM215 519h1v1h-1zM216 520h1v1h-1zM217 520h1v1h-1zM218 521h1v1h-1zM219 522h1v1h-1zM220 523h1v1h-1zM221 524h1v1h-1zM222 525h1v1h-1zM223 525h1v1h-1zM224 526h1v1h-1zM225 527h1v1h-1zM226 528h1v1h-1zM227 529h1v1h-1zM228 530h1v1h-1zM229 531h1v1h-1zM230 532h1v1h-1zM231 532h1v1h-1zM232 533h1v1h-1zM233 534h1v1h-1zM234 535h1v1h-1zM235 536h1v1h-1zM236 537h1v1h-1zM237 538h1v1h-1zM238 539h1v1h-1zM239 539h1v1h-1zM240 540h1v1h-1zM241 541h1v1h-1zM242 542h1v1h-1zM243 542h1v1h-1zM244 543h1v1h-1zM245 544h1v1h-1zM246 545h1v1h-1zM247 545h1v1h-1zM248 546h1v1h-1zM249 546h1v1h-1zM250 547h1v1h-1zM251 547h1v1h-1zM252 548h1v1h-1zM253 548h1v1h-1zM254 548h1v1h-1zM255 549h1v1h-1zM256 549h1v1h-1zM257 549h1v1h-1zM258 550h1v1h-1zM259 550h1v1h-1zM260 550h1v1h-1zM261 550h1v1h-1zM262 550h1v1h-1zM263 551h1v1h-1zM264 551h1v1h-1zM265 551h1v1h-1zM266 551h1v1h-1zM267 551h1v1h-1zM268 552h1v1h-1zM269 552h1v1h-1zM270 552h1v1h-1zM271 552h1v1h-1zM272 552h1v1h-1zM273 552h1v1h-1zM274 552h1v1h-1zM275 553h1v1h-1zM276 553h1v1h-1zM277 553h1v1h-1zM278 553h1v1h-1zM279 554h1v1h-1zM280 554h1v1h-1zM281 554h1v1h-1zM282 555h1v1h-1zM283 555h1v1h-1zM284 556h1v1h-1zM285 556h1v1h-1zM286 556h1v1h-1zM287 556h1v1h-1zM288 557h1v1h-1zM289 557h1v1h-1zM290 557h1v1h-1zM291 557h1v1h-1zM292 557h1v1h-1zM293 558h1v1h-1zM294 558h1v1h-1zM295 558h1v1h-1zM296 558h1v1h-1zM297 559h1v1h-1zM298 559h1v1h-1zM299 559h1v1h-1zM300 559h1v1h-1zM301 559h1v1h-1zM302 559h1v1h-1zM303 560h1v1h-1zM304 560h1v1h-1zM305 560h1v1h-1zM306 560h1v1h-1zM307 560h1v1h-1zM308 560h1v1h-1zM309 560h1v1h-1zM310 560h1v1h-1zM311 560h1v1h-1zM312 560h1v1h-1zM313 560h1v1h-1zM314 560h1v1h-1zM315 560h1v1h-1zM316 560h1v1h-1zM317 559h1v1h-1zM318 559h1v1h-1zM319 559h1v1h-1zM320 558h1v1h-1zM321 558h1v1h-1zM322 557h1v1h-1zM323 557h1v1h-1zM324 557h1v1h-1zM325 556h1v1h-1zM326 556h1v1h-1zM327 556h1v1h-1zM328 556h1v1h-1zM329 555h1v1h-1zM330 555h1v1h-1zM331 555h1v1h-1zM332 555h1v1h-1zM333 555h1v1h-1zM334 555h1v1h-1zM335 555h1v1h-1zM336 555h1v1h-1zM337 555h1v1h-1zM338 555h1v1h-1zM339 555h1v1h-1zM340 555h1v1h-1zM341 555h1v1h-1zM342 555h1v1h-1zM343 555h1v1h-1zM344 556h1v1h-1zM345 556h1v1h-1zM346 556h1v1h-1zM347 556h1v1h-1zM348 557h1v1h-1zM349 557h1v1h-1zM350 558h1v1h-1zM351 558h1v1h-1zM352 558h1v1h-1zM353 559h1v1h-1zM354 559h1v1h-1zM355 560h1v1h-1zM356 560h1v1h-1zM357 561h1v1h-1zM358 561h1v1h-1zM359 562h1v1h-1zM360 562h1v1h-1zM361 562h1v1h-1zM362 563h1v1h-1zM363 563h1v1h-1zM364 564h1v1h-1zM365 564h1v1h-1zM366 564h1v1h-1zM367 565h1v1h-1zM368 565h1v1h-1zM369 565h1v1h-1zM370 565h1v1h-1zM371 565h1v1h-1zM372 565h1v1h-1zM373 565h1v1h-1zM374 565h1v1h-1zM375 565h1v1h-1zM376 565h1v1h-1zM377 565h1v1h-1zM378 565h1v1h-1zM379 564h1v1h-1zM380 564h1v1h-1zM381 563h1v1h-1zM382 563h1v1h-1zM383 563h1v1h-1zM384 562h1v1h-1zM385 562h1v1h-1zM386 561h1v1h-1zM387 561h1v1h-1zM388 560h1v1h-1zM389 560h1v1h-1zM390 559h1v1h-1zM391 559h1v1h-1zM392 558h1v1h-1zM393 558h1v1h-1zM394 557h1v1h-1zM395 557h1v1h-1zM396 556h1v1h-1zM397 556h1v1h-1zM398 555h1v1h-1zM399 554h1v1h-1zM400 554h1v1h-1zM401 553h1v1h-1zM402 553h1v1h-1zM403 552h1v1h-1zM404 552h1v1h-1zM405 551h1v1h-1zM406 551h1v1h-1zM407 550h1v1h-1zM408 550h1v1h-1zM409 549h1v1h-1zM410 549h1v1h-1zM411 548h1v1h-1zM412 548h1v1h-1zM413 547h1v1h-1zM414 546h1v1h-1zM415 545h1v1h-1zM416 545h1v1h-1zM417 544h1v1h-1zM418 543h1v1h-1zM419 542h1v1h-1zM420 541h1v1h-1zM421 540h1v1h-1zM422 539h1v1h-1zM423 538h1v1h-1zM424 537h1v1h-1zM425 536h1v1h-1zM426 535h1v2h-1zM427 534h1v1h-1zM428 533h1v1h-1zM429 531h1v2h-1zM430 530h1v1h-1zM431 529h1v1h-1zM432 528h1v1h-1zM433 527h1v1h-1zM434 526h1v1h-1zM435 524h1v2h-1zM436 523h1v1h-1zM437 522h1v1h-1zM438 521h1v1h-1zM439 520h1v1h-1zM440 519h1v1h-1zM441 518h1v1h-1zM442 517h1v1h-1zM443 516h1v1h-1zM444 516h1v1h-1zM445 515h1v1h-1zM446 514h1v1h-1zM447 513h1v1h-1zM448 512h1v1h-1zM449 512h1v1h-1zM450 511h1v1h-1zM451 510h1v1h-1zM452 509h1v1h-1zM453 509h1v1h-1zM454 509h1v1h-1zM455 508h1v1h-1zM456 508h1v1h-1zM457 508h1v1h-1zM458 507h1v1h-1zM459 507h1v1h-1zM460 507h1v1h-1zM461 507h1v1h-1zM462 506h1v1h-1zM463 506h1v1h-1zM464 506h1v1h-1zM465 506h1v1h-1zM466 506h1v1h-1zM467 506h1v1h-1zM468 506h1v1h-1zM469 506h1v1h-1zM470 506h1v1h-1zM471 506h1v1h-1zM472 506h1v1h-1zM473 506h1v1h-1zM474 506h1v1h-1zM475 506h1v1h-1zM476 506h1v1h-1zM477 506h1v1h-1zM478 506h1v1h-1zM479 507h1v1h-1zM480 507h1v1h-1zM481 507h1v1h-1zM482 507h1v1h-1zM483 507h1v1h-1zM484 507h1v1h-1zM485 507h1v1h-1zM486 507h1v1h-1zM487 507h1v1h-1zM488 507h1v1h-1zM489 507h1v1h-1zM490 507h1v1h-1zM491 507h1v1h-1zM492 507h1v1h-1zM493 507h1v1h-1zM494 507h1v1h-1zM495 507h1v1h-1zM496 507h1v1h-1zM497 507h1v1h-1zM498 507h1v1h-1zM499 507h1v1h-1zM500 507h1v1h-1zM501 507h1v1h-1zM502 508h1v1h-1zM503 508h1v1h-1zM504 508h1v1h-1zM505 508h1v1h-1zM506 508h1v1h-1zM507 508h1v1h-1zM508 509h1v1h-1zM509 509h1v1h-1zM510 509h1v1h-1zM511 509h1v1h-1zM512 509h1v1h-1zM513 509h1v1h-1zM514 510h1v1h-1zM515 510h1v1h-1zM516 510h1v1h-1zM517 511h1v1h-1zM518 511h1v1h-1zM519 511h1v1h-1zM520 512h1v1h-1zM521 512h1v1h-1zM522 512h1v1h-1zM523 512h1v1h-1zM524 513h1v1h-1zM525 513h1v1h-1zM526 513h1v1h-1zM527 513h1v1h-1zM528 514h1v1h-1zM529 514h1v1h-1zM530 514h1v1h-1zM531 514h1v1h-1zM532 515h1v1h-1zM533 515h1v1h-1zM534 515h1v1h-1zM535 515h1v1h-1zM536 516h1v1h-1zM537 516h1v1h-1zM538 516h1v1h-1zM539 516h1v1h-1zM540 517h1v1h-1zM541 517h1v1h-1zM542 517h1v1h-1zM543 517h1v1h-1zM544 517h1v1h-1zM545 517h1v1h-1zM546 517h1v1h-1zM547 517h1v1h-1zM548 517h1v1h-1zM549 517h1v1h-1zM550 517h1v1h-1zM551 517h1v1h-1zM552 517h1v1h-1zM553 517h1v1h-1zM554 517h1v1h-1zM555 517h1v1h-1zM556 517h1v1h-1zM557 517h1v1h-1zM558 517h1v1h-1zM559 517h1v1h-1zM560 517h1v1h-1zM561 517h1v1h-1zM562 517h1v1h-1zM563 518h1v1h-1zM564 518h1v1h-1zM565 518h1v1h-1zM566 518h1v1h-1zM567 518h1v1h-1zM568 518h1v1h-1zM569 518h1v1h-1zM570 519h1v1h-1zM571 519h1v1h-1zM572 519h1v1h-1zM573 520h1v1h-1zM574 520h1v1h-1zM575 520h1v1h-1zM576 520h1v1h-1zM577 521h1v1h-1zM578 521h1v1h-1zM579 521h1v1h-1zM580 522h1v1h-1zM581 522h1v1h-1zM582 522h1v1h-1zM583 523h1v1h-1zM584 523h1v1h-1zM585 523h1v1h-1zM586 524h1v1h-1zM587 524h1v1h-1zM588 524h1v1h-1zM589 525h1v1h-1zM590 525h1v1h-1zM591 525h1v1h-1zM592 525h1v1h-1zM593 526h1v1h-1zM594 526h1v1h-1zM595 526h1v1h-1zM596 526h1v1h-1zM597 526h1v1h-1zM598 527h1v1h-1zM599 527h1v1h-1zM600 527h1v1h-1zM601 527h1v1h-1zM602 527h1v1h-1zM603 527h1v1h-1zM604 527h1v1h-1zM605 527h1v1h-1zM606 527h1v1h-1zM607 527h1v1h-1zM608 527h1v1h-1zM609 527h1v1h-1zM610 527h1v1h-1zM611 527h1v1h-1zM612 527h1v1h-1zM613 527h1v1h-1zM614 527h1v1h-1zM615 527h1v1h-1zM616 527h1v1h-1zM617 526h1v1h-1zM618 526h1v1h-1zM619 526h1v1h-1zM620 526h1v1h-1zM621 526h1v1h-1zM622 526h1v1h-1zM623 526h1v1h-1zM624 526h1v1h-1zM625 526h1v1h-1zM626 526h1v1h-1zM627 526h1v1h-1zM628 526h1v1h-1zM629 526h1v1h-1zM630 526h1v1h-1zM631 525h1v1h-1zM632 525h1v1h-1zM633 525h1v1h-1zM634 525h1v1h-1zM635 525h1v1h-1zM636 525h1v1h-1zM637 524h1v1h-1zM638 524h1v1h-1zM639 524h1v1h-1zM640 524h1v1h-1zM641 523h1v1h-1zM642 523h1v1h-1zM643 523h1v1h-1zM644 523h1v1h-1zM645 523h1v1h-1zM646 523h1v1h-1zM647 523h1v1h-1zM648 523h1v1h-1zM649 523h1v1h-1zM650 523h1v1h-1zM651 523h1v1h-1zM652 523h1v1h-1zM653 523h1v1h-1zM654 523h1v1h-1zM655 523h1v1h-1zM656 523h1v1h-1zM657 523h1v1h-1zM658 523h1v1h-1zM659 523h1v1h-1zM660 523h1v1h-1zM661 523h1v1h-1zM662 524h1v1h-1zM663 524h1v1h-1zM664 524h1v1h-1zM665 524h1v1h-1zM666 524h1v1h-1zM667 525h1v1h-1zM668 525h1v1h-1zM669 526h1v1h-1zM670 526h1v1h-1zM671 527h1v1h-1zM672 527h1v1h-1zM673 528h1v1h-1zM674 528h1v1h-1zM675 529h1v1h-1zM676 529h1v1h-1zM677 529h1v1h-1zM678 530h1v1h-1zM679 530h1v1h-1zM680 531h1v1h-1zM681 531h1v1h-1zM682 531h1v1h-1zM683 532h1v1h-1zM684 532h1v1h-1zM685 533h1v1h-1zM686 533h1v1h-1zM687 534h1v1h-1zM688 535h1v1h-1zM689 535h1v1h-1zM690 536h1v1h-1zM691 536h1v1h-1zM692 537h1v1h-1zM693 537h1v1h-1zM694 537h1v1h-1zM695 538h1v1h-1zM696 538h1v1h-1zM697 539h1v1h-1zM698 539h1v1h-1zM699 539h1v1h-1zM700 540h1v1h-1zM701 540h1v1h-1zM702 540h1v1h-1zM703 540h1v1h-1zM704 540h1v1h-1zM705 540h1v1h-1zM706 540h1v1h-1zM707 540h1v1h-1zM708 541h1v1h-1zM709 541h1v1h-1zM710 541h1v1h-1zM711 541h1v1h-1zM712 541h1v1h-1zM713 541h1v1h-1zM714 541h1v1h-1zM715 541h1v1h-1zM716 541h1v1h-1zM717 541h1v1h-1zM718 541h1v1h-1zM719 541h1v1h-1zM720 542h1v1h-1zM721 542h1v1h-1zM722 542h1v1h-1zM723 542h1v1h-1zM724 542h1v1h-1zM725 542h1v1h-1zM726 542h1v1h-1zM727 541h1v1h-1zM728 541h1v1h-1zM729 541h1v1h-1zM730 541h1v1h-1zM731 541h1v1h-1zM732 541h1v1h-1zM733 541h1v1h-1zM734 541h1v1h-1zM735 541h1v1h-1zM736 540h1v1h-1zM737 540h1v1h-1zM738 539h1v1h-1zM739 539h1v1h-1zM740 539h1v1h-1zM741 538h1v1h-1zM742 538h1v1h-1zM743 537h1v1h-1zM744 537h1v1h-1zM745 537h1v1h-1zM746 536h1v1h-1zM747 536h1v1h-1zM748 536h1v1h-1zM749 535h1v1h-1zM750 535h1v1h-1zM751 535h1v1h-1zM752 534h1v1h-1zM753 534h1v1h-1zM754 533h1v1h-1zM755 533h1v1h-1zM756 533h1v1h-1zM757 532h1v1h-1zM758 532h1v1h-1zM759 531h1v1h-1zM760 531h1v1h-1zM761 531h1v1h-1zM762 530h1v1h-1zM763 530h1v1h-1zM764 529h1v1h-1zM765 529h1v1h-1zM766 529h1v1h-1zM767 529h1v1h-1zM768 528h1v1h-1zM769 528h1v1h-1zM770 528h1v1h-1zM771 528h1v1h-1zM772 528h1v1h-1zM773 528h1v1h-1zM774 528h1v1h-1zM775 528h1v1h-1zM776 528h1v1h-1zM777 528h1v1h-1zM778 528h1v1h-1zM779 528h1v1h-1zM780 528h1v1h-1zM781 528h1v1h-1zM782 528h1v1h-1zM783 529h1v1h-1zM784 529h1v1h-1zM785 529h1v1h-1zM786 530h1v1h-1zM787 530h1v1h-1zM788 530h1v1h-1zM789 530h1v1h-1zM790 530h1v1h-1zM791 530h1v1h-1zM792 530h1v1h-1zM793 530h1v1h-1zM794 530h1v1h-1zM795 531h1v1h-1zM796 531h1v1h-1zM797 531h1v1h-1zM798 531h1v1h-1zM799 531h1v1h-1zM800 532h1v1h-1zM801 532h1v1h-1zM802 532h1v1h-1zM803 532h1v1h-1zM804 533h1v1h-1zM805 533h1v1h-1zM806 533h1v1h-1zM807 533h1v1h-1zM808 534h1v1h-1zM809 534h1v1h-1zM810 534h1v1h-1zM811 534h1v1h-1zM812 534h1v1h-1zM813 534h1v1h-1zM814 534h1v1h-1zM815 534h1v1h-1zM816 534h1v1h-1zM817 534h1v1h-1zM818 534h1v1h-1zM819 534h1v1h-1zM820 534h1v1h-1zM821 534h1v1h-1zM822 534h1v1h-1zM823 534h1v1h-1zM824 534h1v1h-1zM825 534h1v1h-1zM826 534h1v1h-1zM827 534h1v1h-1zM828 534h1v1h-1zM829 535h1v1h-1zM830 535h1v1h-1zM831 535h1v1h-1zM832 535h1v1h-1zM833 535h1v1h-1zM834 535h1v1h-1zM835 535h1v1h-1zM836 535h1v1h-1zM837 536h1v1h-1zM838 536h1v1h-1zM839 537h1v1h-1zM840 537h1v1h-1zM841 538h1v1h-1zM842 539h1v1h-1zM843 539h1v1h-1zM844 540h1v1h-1zM845 540h1v1h-1zM846 541h1v1h-1zM847 541h1v1h-1zM848 542h1v1h-1zM849 542h1v1h-1zM850 543h1v1h-1zM851 543h1v1h-1zM852 544h1v1h-1zM853 544h1v1h-1zM854 545h1v1h-1zM855 545h1v1h-1zM856 546h1v1h-1zM857 547h1v1h-1zM858 547h1v1h-1zM859 548h1v1h-1zM860 548h1v1h-1zM861 549h1v1h-1zM862 549h1v1h-1zM863 550h1v1h-1zM864 550h1v1h-1zM865 551h1v1h-1zM866 551h1v1h-1zM867 552h1v1h-1zM868 552h1v1h-1zM869 553h1v1h-1zM870 553h1v1h-1zM871 554h1v1h-1zM872 554h1v1h-1zM873 554h1v1h-1zM874 555h1v1h-1zM875 555h1v1h-1zM876 555h1v1h-1zM877 555h1v1h-1zM878 555h1v1h-1zM879 555h1v1h-1zM880 555h1v1h-1zM881 555h1v1h-1zM882 555h1v1h-1zM883 555h1v1h-1zM884 555h1v1h-1zM885 554h1v1h-1zM886 554h1v1h-1zM887 554h1v1h-1zM888 554h1v1h-1zM889 553h1v1h-1zM890 553h1v1h-1zM891 552h1v1h-1zM892 552h1v1h-1zM893 552h1v1h-1zM894 551h1v1h-1zM895 551h1v1h-1zM896 550h1v1h-1zM897 550h1v1h-1zM898 550h1v1h-1zM899 549h1v1h-1zM900 549h1v1h-1zM901 548h1v1h-1zM902 548h1v1h-1zM903 548h1v1h-1zM904 547h1v1h-1zM905 547h1v1h-1zM906 547h1v1h-1zM907 547h1v1h-1zM908 546h1v1h-1zM909 546h1v1h-1zM910 546h1v1h-1zM911 545h1v1h-1zM912 545h1v1h-1zM913 545h1v1h-1zM914 545h1v1h-1zM915 544h1v1h-1zM916 544h1v1h-1zM917 544h1v1h-1zM918 544h1v1h-1zM919 544h1v1h-1zM920 544h1v1h-1zM921 544h1v1h-1zM922 544h1v1h-1zM923 544h1v1h-1zM924 544h1v1h-1zM925 544h1v1h-1zM926 544h1v1h-1z" fill="#ff0000"/>
<path d="M7 603.5H1168M7 638.5H1168" stroke="#c0c0c0" stroke-width="1" stroke-dasharray="3 3" fill="none"/>
<path d="M6 616h1v1h-1zM7 617h1v1h-1zM8 618h1v1h-1zM9 618h1v1h-1zM10 619h1v1h-1zM11 620h1v1h-1zM12 619h1v1h-1zM13 619h1v1h-1zM14 618h1v1h-1zM15 618h1v1h-1zM16 617h1v1h-1zM17 617h1v1h-1zM18 616h1v1h-1zM19 617h1v1h-1zM20 617h1v1h-1zM21 618h1v1h-1zM22 618h1v1h-1zM23 619h1v1h-1zM24 619h1v1h-1zM25 620h1v1h-1zM26 620h1v1h-1zM27 620h1v1h-1zM28 620h1v1h-1zM29 619h1v1h-1zM30 619h1v1h-1zM31 618h1v1h-1zM32 617h1v1h-1zM33 617h1v1h-1zM34 616h1v1h-1zM35 615h1v1h-1zM36 614h1v1h-1zM37 613h1v1h-1zM38 613h1v1h-1zM39 614h1v2h-1zM40 616h1v1h-1zM41 617h1v1h-1zM42 618h1v1h-1zM43 619h1v1h-1zM44 618h1v1h-1zM45 617h1v1h-1zM46 616h1v1h-1zM47 616h1v1h-1zM48 616h1v1h-1zM49 617h1v1h-1zM50 617h1v1h-1zM51 618h1v1h-1zM52 618h1v1h-1zM53 617h1v1h-1zM54 617h1v1h-1zM55 615h1v2h-1zM56 613h1v2h-1zM57 611h1v2h-1zM58 609h1v2h-1zM59 608h1v1h-1zM60 608h1v1h-1zM61 609h1v1h-1zM62 609h1v1h-1zM63 609h1v2h-1zM64 608h1v1h-1zM65 606h1v2h-1zM66 605h1v1h-1zM67 605h1v2h-1zM68 607h1v2h-1zM69 609h1v1h-1zM70 610h1v1h-1zM71 611h1v1h-1zM72 612h1v1h-1zM73 613h1v1h-1zM74 614h1v1h-1zM75 615h1v1h-1zM76 616h1v1h-1zM77 617h1v1h-1zM78 618h1v1h-1zM79 619h1v1h-1zM80 618h1v1h-1zM81 617h1v1h-1zM82 617h1v1h-1zM83 617h1v1h-1zM84 617h1v1h-1zM85 617h1v1h-1zM86 617h1v1h-1zM87 617h1v1h-1zM88 617h1v1h-1zM89 617h1v1h-1zM90 617h1v1h-1zM91 617h1v1h-1zM92 617h1v1h-1zM93 617h1v1h-1zM94 617h1v1h-1zM95 617h1v1h-1zM96 616h1v1h-1zM97 616h1v1h-1zM98 615h1v1h-1zM99 615h1v1h-1zM100 615h1v1h-1zM101 616h1v1h-1zM102 616h1v1h-1zM103 616h1v1h-1zM104 616h1v1h-1zM105 615h1v1h-1zM106 615h1v1h-1zM107 615h1v1h-1zM108 615h1v1h-1zM109 615h1v1h-1zM110 616h1v1h-1zM111 616h1v1h-1zM112 616h1v1h-1zM113 616h1v1h-1zM114 617h1v1h-1zM115 617h1v1h-1zM116 616h1v1h-1zM117 616h1v1h-1zM118 615h1v1h-1zM119 614h1v1h-1zM120 614h1v1h-1zM121 613h1v1h-1zM122 612h1v2h-1zM123 611h1v1h-1zM124 609h1v2h-1zM125 608h1v1h-1zM126 607h1v1h-1zM127 606h1v1h-1zM128 607h1v1h-1zM129 608h1v1h-1zM130 608h1v1h-1zM131 609h1v1h-1zM132 609h1v1h-1zM133 609h1v1h-1zM134 609h1v1h-1zM135 608h1v2h-1zM136 607h1v1h-1zM137 605h1v2h-1zM138 604h1v1h-1zM139 603h1v1h-1zM140 603h1v1h-1zM141 603h1v1h-1zM142 603h1v1h-1zM143 604h1v1h-1zM144 604h1v1h-1zM145 605h1v1h-1zM146 606h1v1h-1zM147 606h1v1h-1zM148 606h1v1h-1zM149 605h1v1h-1zM150 605h1v1h-1zM151 605h1v1h-1zM152 605h1v1h-1zM153 605h1v1h-1zM154 606h1v1h-1zM155 606h1v1h-1zM156 606h1v1h-1zM157 606h1v1h-1zM158 606h1v1h-1zM159 606h1v2h-1zM160 608h1v2h-1zM161 610h1v2h-1zM162 612h1v2h-1zM163 614h1v1h-1zM164 615h1v1h-1zM165 616h1v2h-1zM166 618h1v1h-1zM167 618h1v1h-1zM168 617h1v1h-1zM169 616h1v1h-1zM170 616h1v1h-1zM171 615h1v1h-1zM172 615h1v1h-1zM173 614h1v1h-1zM174 614h1v1h-1zM175 613h1v1h-1zM176 613h1v1h-1zM177 614h1v1h-1zM178 614h1v1h-1zM179 613h1v1h-1zM180 613h1v1h-1zM181 613h1v1h-1zM182 613h1v1h-1zM183 614h1v1h-1zM184 614h1v1h-1zM185 615h1v1h-1zM186 616h1v1h-1zM187 616h1v1h-1zM188 617h1v1h-1zM189 617h1v1h-1zM190 618h1v1h-1zM191 619h1v1h-1zM192 620h1v2h-1zM193 622h1v1h-1zM194 623h1v1h-1zM195 624h1v1h-1zM196 624h1v1h-1zM197 624h1v1h-1zM198 624h1v1h-1zM199 624h1v1h-1zM200 624h1v1h-1zM201 624h1v1h-1zM202 625h1v1h-1zM203 625h1v1h-1zM204 624h1v1h-1zM205 624h1v1h-1zM206 624h1v1h-1zM207 624h1v2h-1zM208 626h1v1h-1zM209 627h1v1h-1zM210 628h1v1h-1zM211 629h1v1h-1zM212 630h1v1h-1zM213 631h1v1h-1zM214 631h1v1h-1zM215 632h1v1h-1zM216 633h1v1h-1zM217 634h1v1h-1zM218 634h1v1h-1zM219 635h1v1h-1zM220 635h1v1h-1zM221 634h1v1h-1zM222 634h1v1h-1zM223 634h1v1h-1zM224 634h1v1h-1zM225 634h1v1h-1zM226 634h1v1h-1zM227 634h1v1h-1zM228 634h1v1h-1zM229 634h1v1h-1zM230 635h1v1h-1zM231 635h1v1h-1zM232 636h1v1h-1zM233 637h1v1h-1zM234 637h1v1h-1zM235 637h1v1h-1zM236 637h1v1h-1zM237 636h1v1h-1zM238 636h1v1h-1zM239 636h1v1h-1zM240 636h1v1h-1zM241 637h1v1h-1zM242 637h1v1h-1zM243 638h1v1h-1zM244 638h1v1h-1zM245 638h1v1h-1zM246 639h1v1h-1zM247 639h1v1h-1zM248 639h1v1h-1zM249 638h1v1h-1zM250 638h1v1h-1zM251 637h1v1h-1zM252 637h1v1h-1zM253 636h1v1h-1zM254 636h1v1h-1zM255 636h1v1h-1zM256 636h1v1h-1zM257 636h1v1h-1zM258 635h1v2h-1zM259 633h1v2h-1zM260 631h1v2h-1zM261 629h1v2h-1zM262 628h1v1h-1zM263 627h1v1h-1zM264 627h1v1h-1zM265 627h1v1h-1zM266 627h1v1h-1zM267 628h1v2h-1zM268 630h1v1h-1zM269 631h1v1h-1zM270 632h1v2h-1zM271 634h1v3h-1zM272 637h1v2h-1zM273 639h1v3h-1zM274 642h1v2h-1zM275 644h1v1h-1zM276 644h1v1h-1zM277 644h1v1h-1zM278 644h1v1h-1zM279 644h1v1h-1zM280 644h1v1h-1zM281 645h1v1h-1zM282 644h1v2h-1zM283 642h1v2h-1zM284 639h1v3h-1zM285 637h1v2h-1zM286 635h1v2h-1zM287 633h1v2h-1zM288 630h1v3h-1zM289 628h1v2h-1zM290 626h1v2h-1zM291 625h1v1h-1zM292 625h1v1h-1zM293 626h1v1h-1zM294 626h1v1h-1zM295 627h1v1h-1zM296 628h1v1h-1zM297 629h1v1h-1zM298 629h1v1h-1zM299 630h1v1h-1zM300 630h1v1h-1zM301 630h1v1h-1zM302 630h1v1h-1zM303 629h1v1h-1zM304 629h1v1h-1zM305 628h1v1h-1zM306 628h1v1h-1zM307 628h1v1h-1zM308 629h1v1h-1zM309 630h1v1h-1zM310 631h1v1h-1zM311 632h1v1h-1zM312 631h1v1h-1zM313 631h1v1h-1zM314 631h1v1h-1zM315 630h1v1h-1zM316 630h1v1h-1zM317 629h1v1h-1zM318 629h1v1h-1zM319 628h1v1h-1zM320 628h1v1h-1zM321 627h1v1h-1zM322 627h1v1h-1zM323 627h1v1h-1zM324 627h1v1h-1zM325 627h1v1h-1zM326 628h1v1h-1zM327 629h1v1h-1zM328 630h1v1h-1zM329 631h1v1h-1zM330 632h1v1h-1zM331 633h1v1h-1zM332 633h1v1h-1zM333 634h1v1h-1zM334 634h1v1h-1zM335 635h1v1h-1zM336 636h1v1h-1zM337 637h1v1h-1zM338 638h1v1h-1zM339 639h1v1h-1zM340 639h1v1h-1zM341 640h1v1h-1zM342 640h1v1h-1zM343 640h1v1h-1zM344 641h1v1h-1zM345 641h1v1h-1zM346 642h1v1h-1zM347 642h1v1h-1zM348 643h1v1h-1zM349 643h1v1h-1zM350 643h1v1h-1zM351 642h1v1h-1zM352 641h1v1h-1zM353 640h1v1h-1zM354 638h1v2h-1zM355 637h1v1h-1zM356 636h1v1h-1zM357 635h1v1h-1zM358 634h1v1h-1zM359 633h1v1h-1zM360 633h1v1h-1zM361 634h1v1h-1zM362 633h1v2h-1zM363 631h1v2h-1zM364 629h1v2h-1zM365 627h1v2h-1zM366 626h1v1h-1zM367 627h1v1h-1zM368 627h1v1h-1zM369 628h1v1h-1zM370 628h1v1h-1zM371 629h1v1h-1zM372 628h1v1h-1zM373 628h1v1h-1zM374 628h1v1h-1zM375 628h1v1h-1zM376 628h1v1h-1zM377 628h1v1h-1zM378 628h1v1h-1zM379 627h1v1h-1zM380 626h1v1h-1zM381 626h1v1h-1zM382 625h1v1h-1zM383 626h1v1h-1zM384 626h1v1h-1zM385 627h1v1h-1zM386 628h1v1h-1zM387 628h1v1h-1zM388 628h1v1h-1zM389 628h1v1h-1zM390 628h1v1h-1zM391 627h1v1h-1zM392 626h1v1h-1zM393 625h1v1h-1zM394 624h1v1h-1zM395 624h1v1h-1zM396 624h1v1h-1zM397 625h1v1h-1zM398 625h1v1h-1zM399 624h1v2h-1zM400 623h1v1h-1zM401 622h1v1h-1zM402 621h1v1h-1zM403 620h1v1h-1zM404 620h1v1h-1zM405 620h1v1h-1zM406 620h1v1h-1zM407 620h1v1h-1zM408 621h1v2h-1zM409 623h1v1h-1zM410 624h1v1h-1zM411 620h1v4h-1zM412 615h1v5h-1zM413 611h1v4h-1zM414 609h1v2h-1zM415 608h1v1h-1zM416 608h1v1h-1zM417 608h1v1h-1zM418 608h1v1h-1zM419 608h1v1h-1zM420 608h1v1h-1zM421 608h1v1h-1zM422 608h1v1h-1zM423 607h1v1h-1zM424 607h1v1h-1zM425 606h1v1h-1zM426 605h1v1h-1zM427 605h1v1h-1zM428 604h1v1h-1zM429 603h1v1h-1zM430 603h1v1h-1zM431 604h1v1h-1zM432 605h1v1h-1zM433 606h1v1h-1zM434 606h1v1h-1zM435 607h1v1h-1zM436 607h1v1h-1zM437 607h1v1h-1zM438 607h1v1h-1zM439 607h1v2h-1zM440 609h1v1h-1zM441 610h1v1h-1zM442 611h1v1h-1zM443 612h1v1h-1zM444 612h1v1h-1zM445 612h1v1h-1zM446 612h1v1h-1zM447 612h1v1h-1zM448 612h1v1h-1zM449 613h1v1h-1zM450 613h1v1h-1zM451 613h1v1h-1zM452 613h1v1h-1zM453 612h1v1h-1zM454 611h1v1h-1zM455 611h1v1h-1zM456 611h1v1h-1zM457 611h1v1h-1zM458 611h1v1h-1zM459 611h1v1h-1zM460 610h1v1h-1zM461 610h1v1h-1zM462 609h1v1h-1zM463 609h1v1h-1zM464 608h1v1h-1zM465 608h1v1h-1zM466 608h1v1h-1zM467 608h1v1h-1zM468 609h1v1h-1zM469 610h1v1h-1zM470 610h1v1h-1zM471 611h1v1h-1zM472 612h1v1h-1zM473 613h1v1h-1zM474 614h1v1h-1zM475 614h1v1h-1zM476 612h1v2h-1zM477 610h1v2h-1zM478 609h1v1h-1zM479 609h1v1h-1zM480 610h1v1h-1zM481 611h1v1h-1zM482 612h1v1h-1zM483 612h1v1h-1zM484 610h1v2h-1zM485 609h1v1h-1zM486 608h1v1h-1zM487 607h1v1h-1zM488 608h1v1h-1zM489 609h1v1h-1zM490 610h1v1h-1zM491 611h1v1h-1zM492 611h1v1h-1zM493 612h1v1h-1zM494 612h1v1h-1zM495 613h1v1h-1zM496 613h1v1h-1zM497 614h1v1h-1zM498 614h1v1h-1zM499 615h1v1h-1zM500 616h1v1h-1zM501 616h1v1h-1zM502 617h1v1h-1zM503 618h1v1h-1zM504 618h1v1h-1zM505 619h1v1h-1zM506 620h1v1h-1zM507 620h1v1h-1zM508 620h1v1h-1zM509 620h1v1h-1zM510 620h1v1h-1zM511 619h1v1h-1zM512 617h1v2h-1zM513 616h1v1h-1zM514 615h1v1h-1zM515 614h1v1h-1zM516 615h1v1h-1zM517 616h1v1h-1zM518 617h1v1h-1zM519 616h1v1h-1zM520 615h1v1h-1zM521 614h1v1h-1zM522 613h1v1h-1zM523 612h1v1h-1zM524 612h1v1h-1zM525 613h1v1h-1zM526 613h1v1h-1zM527 614h1v2h-1zM528 616h1v2h-1zM529 618h1v2h-1zM530 620h1v1h-1zM531 621h1v1h-1zM532 620h1v1h-1zM533 619h1v1h-1zM534 618h1v1h-1zM535 618h1v1h-1zM536 617h1v1h-1zM537 617h1v1h-1zM538 616h1v1h-1zM539 617h1v1h-1zM540 617h1v1h-1zM541 618h1v1h-1zM542 618h1v1h-1zM543 618h1v1h-1zM544 618h1v1h-1zM545 617h1v1h-1zM546 616h1v2h-1zM547 614h1v2h-1zM548 611h1v3h-1zM549 609h1v2h-1zM550 608h1v1h-1zM551 608h1v2h-1zM552 610h1v2h-1zM553 612h1v2h-1zM554 614h1v2h-1zM555 616h1v2h-1zM556 618h1v2h-1zM557 620h1v2h-1zM558 622h1v2h-1zM559 624h1v1h-1zM560 623h1v1h-1zM561 623h1v1h-1zM562 623h1v1h-1zM563 623h1v1h-1zM564 622h1v1h-1zM565 622h1v1h-1zM566 622h1v1h-1zM567 622h1v1h-1zM568 622h1v1h-1zM569 622h1v1h-1zM570 623h1v1h-1zM571 623h1v1h-1zM572 622h1v1h-1zM573 622h1v1h-1zM574 622h1v1h-1zM575 622h1v1h-1zM576 622h1v1h-1zM577 622h1v1h-1zM578 623h1v1h-1zM579 623h1v1h-1zM580 624h1v1h-1zM581 624h1v1h-1zM582 625h1v1h-1zM583 623h1v2h-1zM584 621h1v2h-1zM585 620h1v1h-1zM586 619h1v1h-1zM587 618h1v1h-1zM588 618h1v1h-1zM589 618h1v1h-1zM590 619h1v1h-1zM591 618h1v1h-1zM592 618h1v1h-1zM593 617h1v1h-1zM594 617h1v1h-1zM595 617h1v1h-1zM596 616h1v1h-1zM597 616h1v1h-1zM598 616h1v1h-1zM599 617h1v1h-1zM600 618h1v1h-1zM601 619h1v1h-1zM602 619h1v1h-1zM603 620h1v1h-1zM604 620h1v1h-1zM605 620h1v1h-1zM606 620h1v1h-1zM607 620h1v1h-1zM608 619h1v1h-1zM609 619h1v1h-1zM610 619h1v1h-1zM611 619h1v1h-1zM612 619h1v1h-1zM613 619h1v1h-1zM614 620h1v1h-1zM615 620h1v1h-1zM616 620h1v1h-1zM617 620h1v1h-1zM618 620h1v1h-1zM619 618h1v2h-1zM620 616h1v2h-1zM621 614h1v2h-1zM622 613h1v1h-1zM623 614h1v1h-1zM624 614h1v1h-1zM625 615h1v1h-1zM626 616h1v1h-1zM627 616h1v1h-1zM628 615h1v2h-1zM629 614h1v1h-1zM630 613h1v2h-1zM631 612h1v1h-1zM632 612h1v1h-1zM633 611h1v1h-1zM634 611h1v1h-1zM635 611h1v1h-1zM636 612h1v1h-1zM637 612h1v1h-1zM638 613h1v1h-1zM639 614h1v2h-1zM640 616h1v1h-1zM641 617h1v2h-1zM642 619h1v1h-1zM643 620h1v1h-1zM644 621h1v1h-1zM645 622h1v1h-1zM646 623h1v1h-1zM647 624h1v1h-1zM648 624h1v1h-1zM649 624h1v1h-1zM650 624h1v1h-1zM651 623h1v1h-1zM652 623h1v1h-1zM653 622h1v1h-1zM654 621h1v1h-1zM655 622h1v1h-1zM656 623h1v1h-1zM657 624h1v2h-1zM658 626h1v1h-1zM659 626h1v1h-1zM660 626h1v1h-1zM661 626h1v1h-1zM662 627h1v1h-1zM663 627h1v1h-1zM664 627h1v1h-1zM665 626h1v1h-1zM666 626h1v1h-1zM667 626h1v1h-1zM668 627h1v1h-1zM669 628h1v1h-1zM670 628h1v1h-1zM671 629h1v1h-1zM672 630h1v1h-1zM673 630h1v1h-1zM674 631h1v1h-1zM675 631h1v1h-1zM676 631h1v1h-1zM677 630h1v1h-1zM678 630h1v1h-1zM679 630h1v2h-1zM680 632h1v1h-1zM681 632h1v2h-1zM682 634h1v1h-1zM683 634h1v1h-1zM684 634h1v1h-1zM685 634h1v1h-1zM686 634h1v1h-1zM687 632h1v2h-1zM688 631h1v1h-1zM689 629h1v2h-1zM690 628h1v1h-1zM691 627h1v1h-1zM692 626h1v1h-1zM693 625h1v1h-1zM694 624h1v1h-1zM695 623h1v1h-1zM696 623h1v1h-1zM697 623h1v1h-1zM698 623h1v1h-1zM699 623h1v1h-1zM700 624h1v1h-1zM701 625h1v1h-1zM702 626h1v1h-1zM703 627h1v1h-1zM704 628h1v1h-1zM705 629h1v1h-1zM706 629h1v1h-1zM707 630h1v1h-1zM708 630h1v1h-1zM709 629h1v1h-1zM710 629h1v1h-1zM711 629h1v1h-1zM712 629h1v1h-1zM713 629h1v1h-1zM714 629h1v1h-1zM715 629h1v1h-1zM716 630h1v1h-1zM717 631h1v1h-1zM718 631h1v1h-1zM719 632h1v1h-1zM720 632h1v1h-1zM721 633h1v1h-1zM722 633h1v1h-1zM723 630h1v3h-1zM724 627h1v3h-1zM725 623h1v4h-1zM726 622h1v1h-1zM727 620h1v2h-1zM728 619h1v1h-1zM729 618h1v1h-1zM730 617h1v1h-1zM731 616h1v1h-1zM732 616h1v1h-1zM733 615h1v1h-1zM734 615h1v1h-1zM735 615h1v1h-1zM736 614h1v1h-1zM737 613h1v1h-1zM738 612h1v1h-1zM739 611h1v1h-1zM740 611h1v1h-1zM741 611h1v1h-1zM742 611h1v1h-1zM743 612h1v3h-1zM744 615h1v2h-1zM745 617h1v2h-1zM746 619h1v2h-1zM747 621h1v1h-1zM748 621h1v1h-1zM749 620h1v1h-1zM750 620h1v1h-1zM751 620h1v1h-1zM752 620h1v1h-1zM753 620h1v1h-1zM754 620h1v1h-1zM755 620h1v1h-1zM756 620h1v1h-1zM757 619h1v1h-1zM758 619h1v1h-1zM759 619h1v1h-1zM760 619h1v1h-1zM761 620h1v1h-1zM762 620h1v1h-1zM763 621h1v1h-1zM764 620h1v1h-1zM765 619h1v1h-1zM766 619h1v1h-1zM767 618h1v1h-1zM768 617h1v1h-1zM769 616h1v1h-1zM770 615h1v1h-1zM771 616h1v2h-1zM772 618h1v2h-1zM773 620h1v2h-1zM774 622h1v2h-1zM775 624h1v2h-1zM776 626h1v1h-1zM777 627h1v2h-1zM778 629h1v1h-1zM779 630h1v1h-1zM780 630h1v1h-1zM781 630h1v1h-1zM782 630h1v1h-1zM783 628h1v2h-1zM784 626h1v2h-1zM785 625h1v1h-1zM786 624h1v1h-1zM787 623h1v1h-1zM788 623h1v1h-1zM789 624h1v1h-1zM790 624h1v1h-1zM791 623h1v1h-1zM792 622h1v1h-1zM793 620h1v2h-1zM794 619h1v1h-1zM795 619h1v1h-1zM796 620h1v1h-1zM797 620h1v1h-1zM798 621h1v1h-1zM799 622h1v1h-1zM800 622h1v1h-1zM801 622h1v1h-1zM802 623h1v1h-1zM803 623h1v1h-1zM804 623h1v1h-1zM805 624h1v1h-1zM806 624h1v1h-1zM807 623h1v1h-1zM808 623h1v1h-1zM809 622h1v1h-1zM810 621h1v1h-1zM811 620h1v1h-1zM812 620h1v1h-1zM813 621h1v1h-1zM814 622h1v1h-1zM815 623h1v1h-1zM816 624h1v1h-1zM817 625h1v2h-1zM818 627h1v1h-1zM819 628h1v1h-1zM820 627h1v1h-1zM821 627h1v1h-1zM822 626h1v1h-1zM823 626h1v1h-1zM824 626h1v1h-1zM825 626h1v1h-1zM826 626h1v1h-1zM827 626h1v1h-1zM828 626h1v1h-1zM829 626h1v1h-1zM830 626h1v1h-1zM831 626h1v1h-1zM832 627h1v1h-1zM833 627h1v1h-1zM834 628h1v2h-1zM835 630h1v3h-1zM836 633h1v3h-1zM837 636h1v3h-1zM838 639h1v1h-1zM839 639h1v1h-1zM840 637h1v2h-1zM841 636h1v1h-1zM842 635h1v1h-1zM843 634h1v1h-1zM844 634h1v1h-1zM845 634h1v1h-1zM846 634h1v1h-1zM847 634h1v1h-1zM848 634h1v1h-1zM849 634h1v1h-1zM850 635h1v1h-1zM851 635h1v1h-1zM852 635h1v1h-1zM853 635h1v1h-1zM854 635h1v1h-1zM855 635h1v1h-1zM856 635h1v1h-1zM857 636h1v1h-1zM858 636h1v1h-1zM859 636h1v1h-1zM860 636h1v1h-1zM861 636h1v1h-1zM862 636h1v1h-1zM863 635h1v1h-1zM864 634h1v1h-1zM865 633h1v1h-1zM866 632h1v1h-1zM867 631h1v1h-1zM868 631h1v1h-1zM869 632h1v1h-1zM870 631h1v2h-1zM871 629h1v2h-1zM872 627h1v2h-1zM873 625h1v2h-1zM874 624h1v1h-1zM875 624h1v1h-1zM876 624h1v1h-1zM877 624h1v1h-1zM878 624h1v1h-1zM879 624h1v1h-1zM880 625h1v1h-1zM881 626h1v1h-1zM882 627h1v1h-1zM883 628h1v1h-1zM884 627h1v1h-1zM885 627h1v1h-1zM886 626h1v1h-1zM887 626h1v1h-1zM888 626h1v1h-1zM889 625h1v1h-1zM890 625h1v1h-1zM891 625h1v1h-1zM892 625h1v1h-1zM893 625h1v1h-1zM894 626h1v1h-1zM895 626h1v1h-1zM896 626h1v1h-1zM897 626h1v1h-1zM898 626h1v1h-1zM899 626h1v1h-1zM900 626h1v1h-1zM901 626h1v1h-1zM902 626h1v1h-1zM903 627h1v1h-1zM904 628h1v1h-1zM905 629h1v1h-1zM906 629h1v1h-1zM907 630h1v1h-1zM908 629h1v1h-1zM909 629h1v1h-1zM910 628h1v1h-1zM911 628h1v1h-1zM912 627h1v1h-1zM913 627h1v1h-1zM914 627h1v1h-1zM915 628h1v1h-1zM916 628h1v2h-1zM917 630h1v1h-1zM918 630h1v2h-1zM919 632h1v1h-1zM920 632h1v2h-1zM921 634h1v1h-1zM922 634h1v1h-1zM923 634h1v2h-1zM924 633h1v1h-1zM925 632h1v1h-1zM926 631h1v1h-1z" fill="#0d86ff"/>
</g>
<g>
<text x="-2.8" y="15.8" font-size="10.2" fill="#3c3c3c" textLength="10.2" lengthAdjust="spacingAndGlyphs">15</text>
<text x="17.9" y="15.8" font-size="10.2" fill="#3c3c3c" textLength="17.2" lengthAdjust="spacingAndGlyphs">M30</text>
<text x="48.8" y="15.8" font-size="10.2" fill="#3c3c3c" textLength="11.1" lengthAdjust="spacingAndGlyphs">H1</text>
<text x="75.8" y="15.8" font-size="10.2" fill="#3c3c3c" textLength="11.9" lengthAdjust="spacingAndGlyphs">H4</text>
<text x="104.6" y="15.8" font-size="10.2" fill="#3c3c3c" textLength="11.3" lengthAdjust="spacingAndGlyphs">D1</text>
<text x="132.1" y="15.8" font-size="10.2" fill="#3c3c3c" textLength="13.9" lengthAdjust="spacingAndGlyphs">W1</text>
<text x="158.9" y="15.8" font-size="10.2" fill="#3c3c3c" textLength="14.1" lengthAdjust="spacingAndGlyphs">MN</text>
<polygon class="c" points="9,39 16,39 12.5,34.6" fill="#000"/>
<text x="21.4" y="39.8" font-size="10" fill="#000" textLength="65.0" lengthAdjust="spacingAndGlyphs">USDCNH,Daily</text>
<text x="93" y="39.8" font-size="10" fill="#000" textLength="140.5" lengthAdjust="spacingAndGlyphs">6.37309 6.38194 6.37148 6.38123</text>
<text x="1174" y="60" font-size="9.6" fill="#000" textLength="33.0" lengthAdjust="spacingAndGlyphs">6.58350</text>
<text x="1174" y="93" font-size="9.6" fill="#000" textLength="33.0" lengthAdjust="spacingAndGlyphs">6.56550</text>
<text x="1174" y="126" font-size="9.6" fill="#000" textLength="33.0" lengthAdjust="spacingAndGlyphs">6.54750</text>
<text x="1174" y="159" font-size="9.6" fill="#000" textLength="33.0" lengthAdjust="spacingAndGlyphs">6.52900</text>
<text x="1174" y="192" font-size="9.6" fill="#000" textLength="33.0" lengthAdjust="spacingAndGlyphs">6.51100</text>
<text x="1174" y="225" font-size="9.6" fill="#000" textLength="33.0" lengthAdjust="spacingAndGlyphs">6.49250</text>
<text x="1174" y="258" font-size="9.6" fill="#000" textLength="33.0" lengthAdjust="spacingAndGlyphs">6.47450</text>
<text x="1174" y="291" font-size="9.6" fill="#000" textLength="33.0" lengthAdjust="spacingAndGlyphs">6.45600</text>
<text x="1174" y="324" font-size="9.6" fill="#000" textLength="33.0" lengthAdjust="spacingAndGlyphs">6.43800</text>
<text x="1174" y="357" font-size="9.6" fill="#000" textLength="33.0" lengthAdjust="spacingAndGlyphs">6.41950</text>
<text x="1174" y="390" font-size="9.6" fill="#000" textLength="33.0" lengthAdjust="spacingAndGlyphs">6.40150</text>
<text x="1174" y="423" font-size="9.6" fill="#000" textLength="33.0" lengthAdjust="spacingAndGlyphs">6.38300</text>
<text x="1174" y="456" font-size="9.6" fill="#000" textLength="33.0" lengthAdjust="spacingAndGlyphs">6.36500</text>
<text x="1174" y="489" font-size="9.6" fill="#000" textLength="33.0" lengthAdjust="spacingAndGlyphs">6.34700</text>
<text x="1172" y="500.8" font-size="9.6" fill="#000" textLength="38.3" lengthAdjust="spacingAndGlyphs">0.025108</text>
<text x="1172" y="533" font-size="9.6" fill="#000" textLength="17.8" lengthAdjust="spacingAndGlyphs">0.00</text>
<text x="1172" y="570.8" font-size="9.6" fill="#000" textLength="36.5" lengthAdjust="spacingAndGlyphs">-0.02988</text>
<text x="1172.5" y="586.8" font-size="9.6" fill="#000" textLength="14.7" lengthAdjust="spacingAndGlyphs">100</text>
<text x="1172" y="607" font-size="9.6" fill="#000" textLength="9.0" lengthAdjust="spacingAndGlyphs">70</text>
<text x="1172" y="641.8" font-size="9.6" fill="#000" textLength="9.0" lengthAdjust="spacingAndGlyphs">30</text>
<text x="1172.5" y="660.6" font-size="9.6" fill="#000" textLength="4.4" lengthAdjust="spacingAndGlyphs">0</text>
</g>
<g class="c">
<rect x="1170" y="48" width="38" height="11" fill="#ff0000"/>
<rect x="1170" y="173" width="38" height="11" fill="#ff0000"/>
<rect x="1170" y="291" width="38" height="11" fill="#00ff00"/>
<rect x="1170" y="382" width="38" height="11" fill="#0000ff"/>
<rect x="1170" y="418" width="38" height="11" fill="#000000"/>
<rect x="1170" y="473" width="38" height="11" fill="#0000ff"/>
</g><g>
<text x="1174" y="57" font-size="9.6" fill="#fff" textLength="33.0" lengthAdjust="spacingAndGlyphs">6.58514</text>
<text x="1174" y="182" font-size="9.6" fill="#fff" textLength="33.0" lengthAdjust="spacingAndGlyphs">6.51605</text>
<text x="1174" y="300" font-size="9.6" fill="#fff" textLength="33.0" lengthAdjust="spacingAndGlyphs">6.45060</text>
<text x="1174" y="391" font-size="9.6" fill="#fff" textLength="33.0" lengthAdjust="spacingAndGlyphs">6.40042</text>
<text x="1174" y="427" font-size="9.6" fill="#fff" textLength="33.0" lengthAdjust="spacingAndGlyphs">6.38123</text>
<text x="1174" y="482" font-size="9.6" fill="#fff" textLength="33.0" lengthAdjust="spacingAndGlyphs">6.35025</text>
<text x="10.6" y="503" font-size="10" fill="#000" textLength="65.7" lengthAdjust="spacingAndGlyphs">MACD(12,26,9)</text>
<text x="79" y="503" font-size="10" fill="#000" textLength="40.4" lengthAdjust="spacingAndGlyphs">-0.010239</text>
<text x="123.4" y="503" font-size="10" fill="#000" textLength="39.7" lengthAdjust="spacingAndGlyphs">-0.009861</text>
<text x="10.3" y="589.2" font-size="10" fill="#000" textLength="31.0" lengthAdjust="spacingAndGlyphs">RSI(14)</text>
<text x="45.1" y="589.2" font-size="10" fill="#000" textLength="32.6" lengthAdjust="spacingAndGlyphs">39.3387</text>
<text x="5.5" y="677" font-size="10" fill="#000" textLength="51.2" lengthAdjust="spacingAndGlyphs">18 Feb 2021</text>
<text x="69.5" y="677" font-size="10" fill="#000" textLength="46.0" lengthAdjust="spacingAndGlyphs">9 Mar 2021</text>
<text x="133.5" y="677" font-size="10" fill="#000" textLength="50.9" lengthAdjust="spacingAndGlyphs">27 Mar 2021</text>
<text x="197.5" y="677" font-size="10" fill="#000" textLength="49.2" lengthAdjust="spacingAndGlyphs">15 Apr 2021</text>
<text x="261.5" y="677" font-size="10" fill="#000" textLength="48.7" lengthAdjust="spacingAndGlyphs">4 May 2021</text>
<text x="325.5" y="677" font-size="10" fill="#000" textLength="54.3" lengthAdjust="spacingAndGlyphs">22 May 2021</text>
<text x="389.5" y="677" font-size="10" fill="#000" textLength="49.0" lengthAdjust="spacingAndGlyphs">10 Jun 2021</text>
<text x="453.5" y="677" font-size="10" fill="#000" textLength="48.9" lengthAdjust="spacingAndGlyphs">29 Jun 2021</text>
<text x="517.5" y="677" font-size="10" fill="#000" textLength="45.5" lengthAdjust="spacingAndGlyphs">17 Jul 2021</text>
<text x="581.5" y="677" font-size="10" fill="#000" textLength="46.2" lengthAdjust="spacingAndGlyphs">5 Aug 2021</text>
<text x="645.5" y="677" font-size="10" fill="#000" textLength="51.7" lengthAdjust="spacingAndGlyphs">24 Aug 2021</text>
<text x="709.5" y="677" font-size="10" fill="#000" textLength="51.1" lengthAdjust="spacingAndGlyphs">11 Sep 2021</text>
<text x="773.5" y="677" font-size="10" fill="#000" textLength="50.9" lengthAdjust="spacingAndGlyphs">30 Sep 2021</text>
<text x="837.5" y="677" font-size="10" fill="#000" textLength="49.5" lengthAdjust="spacingAndGlyphs">19 Oct 2021</text>
<text x="901.5" y="677" font-size="10" fill="#000" textLength="48.5" lengthAdjust="spacingAndGlyphs">6 Nov 2021</text>
<text x="19.9" y="701.8" font-size="12" fill="#7d7d7d" textLength="78.9" lengthAdjust="spacingAndGlyphs">EURUSD,Daily</text>
<text x="122.2" y="701.8" font-size="12" fill="#7d7d7d" textLength="81.9" lengthAdjust="spacingAndGlyphs">AUDUSD,Daily</text>
<text x="225.5" y="701.8" font-size="12" fill="#7d7d7d" textLength="66.3" lengthAdjust="spacingAndGlyphs">USDCHF,H4</text>
<text x="314.4" y="701.8" font-size="12" fill="#7d7d7d" textLength="80.0" lengthAdjust="spacingAndGlyphs">USDCAD,Daily</text>
<text x="417.7" y="701.8" font-size="12" fill="#000" textLength="82.1" lengthAdjust="spacingAndGlyphs">USDCNH,Daily</text>
<text x="523.3" y="701.8" font-size="12" fill="#7d7d7d" textLength="63.4" lengthAdjust="spacingAndGlyphs">UKOil,Daily</text>
<text x="609.1" y="701.8" font-size="12" fill="#7d7d7d" textLength="46.6" lengthAdjust="spacingAndGlyphs">DJ30,H1</text>
<text x="677.9" y="701.8" font-size="12" fill="#7d7d7d" textLength="78.5" lengthAdjust="spacingAndGlyphs">USDX,Weekly</text>
<text x="777.5" y="701.8" font-size="12" fill="#7d7d7d" textLength="69.5" lengthAdjust="spacingAndGlyphs">XAUUSD,H4</text>
<text x="871.2" y="701.8" font-size="12" fill="#7d7d7d" textLength="80.0" lengthAdjust="spacingAndGlyphs">GBPUSD,Daily</text>
<text x="974" y="701.8" font-size="12" fill="#7d7d7d" textLength="77.9" lengthAdjust="spacingAndGlyphs">USDX,Weekly</text>
</g>
<polygon points="1187.4,692.8 1187.4,699.4 1183.6,696.1" fill="#a0a0a0"/>
<polygon points="1202.8,692.8 1202.8,699.4 1206.6,696.1" fill="#a0a0a0"/>
<g class="c">
<rect x="7" y="46" width="223" height="61" fill="#fff"/>
<rect x="6" y="53" width="1" height="1" fill="#fff"/>
<rect x="9" y="48" width="52" height="25" fill="#0000a8"/>
<rect x="9" y="72" width="109" height="33" fill="#0000a8"/>
<rect x="176" y="48" width="52" height="25" fill="#0000a8"/>
<rect x="120" y="72" width="108" height="33" fill="#0000a8"/>
<rect x="10" y="49" width="50" height="24" fill="url(#gs)"/>
<rect x="177" y="49" width="50" height="24" fill="url(#gs)"/>
<rect x="10" y="73" width="107" height="31" fill="url(#gp)"/>
<rect x="121" y="73" width="106" height="31" fill="url(#gp)"/>
<rect x="59" y="49" width="1" height="23" fill="#5c5cff"/>
<rect x="226" y="49" width="1" height="23" fill="#5c5cff"/>
<rect x="13" y="71" width="44" height="1" fill="#00008c"/>
<rect x="13" y="72" width="44" height="1" fill="#7878ff"/>
<rect x="180" y="71" width="44" height="1" fill="#00008c"/>
<rect x="180" y="72" width="44" height="1" fill="#7878ff"/>
<rect x="63" y="48" width="111" height="22" fill="#a9acb3"/>
<rect x="64" y="49" width="109" height="20" fill="#fff"/>
<rect x="84" y="49" width="1" height="20" fill="#a9acb3"/>
<rect x="153" y="49" width="1" height="20" fill="#a9acb3"/>
<rect x="65" y="50" width="18" height="6" fill="#efefef"/>
<rect x="65" y="56" width="18" height="12" fill="#d3d3d3"/>
<rect x="155" y="50" width="18" height="6" fill="#efefef"/>
<rect x="155" y="56" width="18" height="12" fill="#d3d3d3"/>
<rect x="71" y="57" width="5" height="1" fill="#4f6fd0"/>
<rect x="72" y="58" width="3" height="1" fill="#3f56a8"/>
<rect x="73" y="59" width="1" height="1" fill="#303060"/>
<rect x="163" y="57" width="1" height="1" fill="#4f6fd0"/>
<rect x="162" y="58" width="3" height="1" fill="#3f56a8"/>
<rect x="161" y="59" width="5" height="1" fill="#303060"/>
</g>
<g>
<text x="21.7" y="63.8" font-size="12" fill="#fff" textLength="25.2" lengthAdjust="spacingAndGlyphs">SELL</text>
<text x="189.7" y="63.8" font-size="12" fill="#fff" textLength="22.8" lengthAdjust="spacingAndGlyphs">BUY</text>
<text x="125.4" y="63" font-size="12" fill="#000" textLength="22.9" lengthAdjust="spacingAndGlyphs">3.00</text>
<text x="29.3" y="99.5" font-size="11" fill="#fff" font-weight="bold" textLength="23.9" lengthAdjust="spacingAndGlyphs">6.38</text>
<text x="139.3" y="99.5" font-size="11" fill="#fff" font-weight="bold" textLength="23.6" lengthAdjust="spacingAndGlyphs">6.38</text>
<text x="56.6" y="100.2" font-size="33.4" fill="#fff" textLength="34.2" lengthAdjust="spacingAndGlyphs" stroke="url(#gp)" stroke-width="0.35">12</text>
<text x="167.6" y="100.2" font-size="33.4" fill="#fff" textLength="34.6" lengthAdjust="spacingAndGlyphs" stroke="url(#gp)" stroke-width="0.35">32</text>
<text x="96.2" y="83.6" font-size="11" fill="#fff" font-weight="bold" textLength="6.6" lengthAdjust="spacingAndGlyphs">6</text>
<text x="207.6" y="83.6" font-size="11" fill="#fff" font-weight="bold" textLength="6.0" lengthAdjust="spacingAndGlyphs">3</text>
</g>
</svg></body></html>
